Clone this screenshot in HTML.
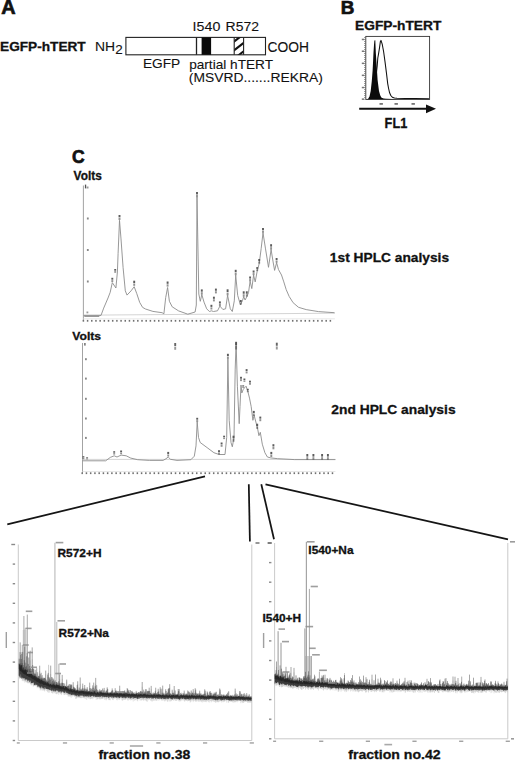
<!DOCTYPE html>
<html><head><meta charset="utf-8"><style>
html,body{margin:0;padding:0;background:#fff;width:520px;height:762px;overflow:hidden}
svg{display:block}
text{font-family:"Liberation Sans", sans-serif}
</style></head><body>
<svg width="520" height="762" viewBox="0 0 520 762">
<text transform="translate(1.30 14.00) scale(1.007 1)" font-size="19.71" font-weight="bold" fill="#111" stroke="#111" stroke-width="0.7">A</text>
<text transform="translate(0.04 50.57) scale(1.032 1)" font-size="13.24" font-weight="bold" fill="#111" stroke="#111" stroke-width="0.3">EGFP-hTERT</text>
<text transform="translate(94.89 50.70) scale(1.021 1)" font-size="13.62" font-weight="normal" fill="#111" stroke="#111" stroke-width="0.1">NH</text>
<text transform="translate(115.13 53.60) scale(1.026 1)" font-size="13.14" font-weight="normal" fill="#111" stroke="#111" stroke-width="0.1">2</text>
<rect x="125.9" y="37.4" width="139.6" height="17.4" fill="#fff" stroke="#222" stroke-width="1.1"/>
<line x1="196.5" y1="37.4" x2="196.5" y2="54.8" stroke="#222" stroke-width="1.3" />
<rect x="201.6" y="37.4" width="9.5" height="17.4" fill="#0a0a0a"/>
<defs><clipPath id="hc"><rect x="234.2" y="37.4" width="9.4" height="17.4"/></clipPath></defs>
<g clip-path="url(#hc)">
<line x1="232" y1="43.19" x2="246" y2="32.27" stroke="#111" stroke-width="2.1"/>
<line x1="232" y1="51.99" x2="246" y2="41.07" stroke="#111" stroke-width="2.1"/>
<line x1="232" y1="60.39" x2="246" y2="49.47" stroke="#111" stroke-width="2.1"/>
</g>
<line x1="234.2" y1="37.4" x2="234.2" y2="54.8" stroke="#222" stroke-width="1.1" />
<line x1="243.6" y1="37.4" x2="243.6" y2="54.8" stroke="#222" stroke-width="1.1" />
<text transform="translate(267.51 51.71) scale(0.987 1)" font-size="14.01" font-weight="normal" fill="#111" stroke="#111" stroke-width="0.1">COOH</text>
<text transform="translate(192.62 30.87) scale(1.064 1)" font-size="13.38" font-weight="normal" fill="#111" stroke="#111" stroke-width="0.1">I540</text>
<text transform="translate(225.58 30.87) scale(1.045 1)" font-size="13.38" font-weight="normal" fill="#111" stroke="#111" stroke-width="0.1">R572</text>
<text transform="translate(142.90 68.37) scale(1.024 1)" font-size="13.38" font-weight="normal" fill="#111" stroke="#111" stroke-width="0.1">EGFP</text>
<text transform="translate(189.14 68.64) scale(1.002 1)" font-size="13.62" font-weight="normal" fill="#111" stroke="#111" stroke-width="0.1">partial hTERT</text>
<text transform="translate(188.77 82.31) scale(1.043 1)" font-size="13.30" font-weight="normal" fill="#111" stroke="#111" stroke-width="0.1">(MSVRD.......REKRA)</text>
<text transform="translate(340.68 14.00) scale(1.016 1)" font-size="18.55" font-weight="bold" fill="#111" stroke="#111" stroke-width="0.7">B</text>
<text transform="translate(355.04 30.37) scale(1.062 1)" font-size="12.97" font-weight="bold" fill="#111" stroke="#111" stroke-width="0.3">EGFP-hTERT</text>
<rect x="365.8" y="36.4" width="63.8" height="63.0" fill="none" stroke="#333" stroke-width="0.9"/>
<rect x="361.8" y="38.7" width="2.4" height="1.5" fill="#777"/>
<rect x="361.8" y="50.5" width="2.4" height="1.5" fill="#777"/>
<rect x="361.8" y="62.6" width="2.4" height="1.5" fill="#777"/>
<rect x="361.8" y="74.6" width="2.4" height="1.5" fill="#777"/>
<rect x="361.8" y="86.8" width="2.4" height="1.5" fill="#777"/>
<rect x="361.8" y="98.4" width="2.4" height="1.5" fill="#777"/>
<rect x="379.5" y="103" width="3.4" height="1.8" fill="#777"/>
<rect x="394.5" y="103" width="3.4" height="1.8" fill="#777"/>
<rect x="411.5" y="103" width="3.4" height="1.8" fill="#777"/>
<polygon points="366.2,99.3 368,99 369.5,96.5 370.7,91 371.8,81 372.6,70.8 373.1,61 373.5,52.4 374.0,45 374.4,40.6 375.3,40.2 375.8,52.4 376.7,66.2 377.6,80 379,91 380.2,95.3 381.3,97.4 383.5,98.4 385.9,98.8 392,99.1 397,99.3" fill="#0b0b0b"/>
<polyline points="376.3,74.0 377.2,66.0 377.8,58.0 378.5,54.2 379.5,47.8 380.4,41.4 381.0,40.4 382.2,44.1 383.6,51.5 385.0,61.6 386.4,72.6 387.7,83.6 388.6,88.5 389.6,92.8 390.8,95.5 392.3,97.2 394.5,98.0 397.0,98.3 405.0,98.5 415.0,98.6 429.0,98.7" fill="none" stroke="#111" stroke-width="1.05" stroke-linejoin="round" />
<line x1="364.8" y1="37" x2="364.8" y2="99.4" stroke="#555" stroke-width="1" stroke-dasharray="0.8 1.2"/>
<line x1="359.2" y1="108.8" x2="428" y2="108.8" stroke="#111" stroke-width="2.0" />
<polygon points="426,104.4 436,108.8 426,113.3" fill="#111"/>
<text transform="translate(384.61 127.60) scale(0.925 1)" font-size="13.77" font-weight="bold" fill="#111" stroke="#111" stroke-width="0.3">FL1</text>
<text transform="translate(71.90 163.42) scale(0.958 1)" font-size="18.31" font-weight="bold" fill="#111" stroke="#111" stroke-width="0.7">C</text>
<text transform="translate(73.58 180.18) scale(0.989 1)" font-size="12.03" font-weight="bold" fill="#111" stroke="#111" stroke-width="0.3">Volts</text>
<text transform="translate(72.28 339.59) scale(1.058 1)" font-size="11.49" font-weight="bold" fill="#111" stroke="#111" stroke-width="0.3">Volts</text>
<line x1="83.4" y1="185.5" x2="83.4" y2="321" stroke="#999" stroke-width="0.9" />
<line x1="83.4" y1="315.2" x2="334.9" y2="313.2" stroke="#cfcfcf" stroke-width="0.9" />
<rect x="86.9" y="217.5" width="1.8" height="2" fill="#888"/>
<rect x="86.9" y="249.0" width="1.8" height="2" fill="#888"/>
<rect x="86.9" y="280.5" width="1.8" height="2" fill="#888"/>
<rect x="84.9" y="184.6" width="1.3" height="3.8" fill="#555"/><rect x="86.6" y="186.5" width="1.9" height="2" fill="#999"/>
<rect x="84.3" y="315.6" width="15" height="1.4" fill="#999"/><rect x="86.5" y="311.5" width="1.8" height="1.8" fill="#999"/>
<rect x="82.65" y="319.9" width="1.5" height="1.8" fill="#707070"/>
<rect x="86.84" y="319.9" width="1.5" height="1.8" fill="#707070"/>
<rect x="91.02" y="319.9" width="1.5" height="1.8" fill="#707070"/>
<rect x="95.21" y="319.9" width="1.5" height="1.8" fill="#707070"/>
<rect x="99.39" y="319.9" width="1.5" height="1.8" fill="#707070"/>
<rect x="103.58" y="319.9" width="1.5" height="1.8" fill="#707070"/>
<rect x="107.77" y="319.9" width="1.5" height="1.8" fill="#707070"/>
<rect x="111.95" y="319.9" width="1.5" height="1.8" fill="#707070"/>
<rect x="116.14" y="319.9" width="1.5" height="1.8" fill="#707070"/>
<rect x="120.32" y="319.9" width="1.5" height="1.8" fill="#707070"/>
<rect x="124.51" y="319.9" width="1.5" height="1.8" fill="#707070"/>
<rect x="128.70" y="319.9" width="1.5" height="1.8" fill="#707070"/>
<rect x="132.88" y="319.9" width="1.5" height="1.8" fill="#707070"/>
<rect x="137.07" y="319.9" width="1.5" height="1.8" fill="#707070"/>
<rect x="141.25" y="319.9" width="1.5" height="1.8" fill="#707070"/>
<rect x="145.44" y="319.9" width="1.5" height="1.8" fill="#707070"/>
<rect x="149.63" y="319.9" width="1.5" height="1.8" fill="#707070"/>
<rect x="153.81" y="319.9" width="1.5" height="1.8" fill="#707070"/>
<rect x="158.00" y="319.9" width="1.5" height="1.8" fill="#707070"/>
<rect x="162.18" y="319.9" width="1.5" height="1.8" fill="#707070"/>
<rect x="166.37" y="319.9" width="1.5" height="1.8" fill="#707070"/>
<rect x="170.56" y="319.9" width="1.5" height="1.8" fill="#707070"/>
<rect x="174.74" y="319.9" width="1.5" height="1.8" fill="#707070"/>
<rect x="178.93" y="319.9" width="1.5" height="1.8" fill="#707070"/>
<rect x="183.11" y="319.9" width="1.5" height="1.8" fill="#707070"/>
<rect x="187.30" y="319.9" width="1.5" height="1.8" fill="#707070"/>
<rect x="191.49" y="319.9" width="1.5" height="1.8" fill="#707070"/>
<rect x="195.67" y="319.9" width="1.5" height="1.8" fill="#707070"/>
<rect x="199.86" y="319.9" width="1.5" height="1.8" fill="#707070"/>
<rect x="204.04" y="319.9" width="1.5" height="1.8" fill="#707070"/>
<rect x="208.23" y="319.9" width="1.5" height="1.8" fill="#707070"/>
<rect x="212.42" y="319.9" width="1.5" height="1.8" fill="#707070"/>
<rect x="216.60" y="319.9" width="1.5" height="1.8" fill="#707070"/>
<rect x="220.79" y="319.9" width="1.5" height="1.8" fill="#707070"/>
<rect x="224.97" y="319.9" width="1.5" height="1.8" fill="#707070"/>
<rect x="229.16" y="319.9" width="1.5" height="1.8" fill="#707070"/>
<rect x="233.35" y="319.9" width="1.5" height="1.8" fill="#707070"/>
<rect x="237.53" y="319.9" width="1.5" height="1.8" fill="#707070"/>
<rect x="241.72" y="319.9" width="1.5" height="1.8" fill="#707070"/>
<rect x="245.90" y="319.9" width="1.5" height="1.8" fill="#707070"/>
<rect x="250.09" y="319.9" width="1.5" height="1.8" fill="#707070"/>
<rect x="254.28" y="319.9" width="1.5" height="1.8" fill="#707070"/>
<rect x="258.46" y="319.9" width="1.5" height="1.8" fill="#707070"/>
<rect x="262.65" y="319.9" width="1.5" height="1.8" fill="#707070"/>
<rect x="266.83" y="319.9" width="1.5" height="1.8" fill="#707070"/>
<rect x="271.02" y="319.9" width="1.5" height="1.8" fill="#707070"/>
<rect x="275.21" y="319.9" width="1.5" height="1.8" fill="#707070"/>
<rect x="279.39" y="319.9" width="1.5" height="1.8" fill="#707070"/>
<rect x="283.58" y="319.9" width="1.5" height="1.8" fill="#707070"/>
<rect x="287.76" y="319.9" width="1.5" height="1.8" fill="#707070"/>
<rect x="291.95" y="319.9" width="1.5" height="1.8" fill="#707070"/>
<rect x="296.14" y="319.9" width="1.5" height="1.8" fill="#707070"/>
<rect x="300.32" y="319.9" width="1.5" height="1.8" fill="#707070"/>
<rect x="304.51" y="319.9" width="1.5" height="1.8" fill="#707070"/>
<rect x="308.69" y="319.9" width="1.5" height="1.8" fill="#707070"/>
<rect x="312.88" y="319.9" width="1.5" height="1.8" fill="#707070"/>
<rect x="317.07" y="319.9" width="1.5" height="1.8" fill="#707070"/>
<rect x="321.25" y="319.9" width="1.5" height="1.8" fill="#707070"/>
<rect x="325.44" y="319.9" width="1.5" height="1.8" fill="#707070"/>
<rect x="329.62" y="319.9" width="1.5" height="1.8" fill="#707070"/>
<line x1="83.4" y1="318.8" x2="334.9" y2="318.8" stroke="#e2e2e2" stroke-width="0.8" />
<polyline points="83.4,315.4 101.0,315.4 103.7,308.1 108.0,298.0 110.2,292.3 112.3,282.6 115.9,288.0 117.4,272.0 118.1,253.3 119.5,220.3 121.0,238.9 123.1,267.7 125.3,290.8 127.0,295.1 131.1,290.8 134.2,286.7 136.8,293.7 139.7,302.4 142.6,307.4 145.5,309.0 152.9,311.4 162.1,312.7 163.9,313.8 165.7,297.6 167.6,287.5 169.4,301.3 172.2,306.8 178.6,310.9 187.8,314.2 195.1,312.0 196.3,305.0 197.0,197.5 198.8,294.0 200.3,301.3 201.8,294.5 204.0,302.1 206.7,308.8 209.4,311.5 211.4,310.8 213.5,311.5 217.5,310.8 219.9,306.1 222.9,309.5 225.6,308.8 227.6,295.4 230.3,308.8 232.3,311.5 234.3,300.8 235.7,275.2 237.7,295.4 240.4,304.8 242.4,300.8 243.7,296.7 245.1,300.0 246.8,296.7 248.5,292.7 250.1,281.2 251.8,288.6 253.6,275.2 255.2,281.9 257.2,271.1 259.2,263.7 261.2,248.3 263.0,232.8 265.4,248.1 268.5,267.3 271.1,249.6 273.1,261.9 274.6,270.4 276.6,262.7 278.5,269.6 281.5,275.0 283.8,281.9 286.2,289.6 289.2,296.5 293.1,302.7 298.5,307.3 306.2,309.6 318.5,311.6 334.5,312.7" fill="none" stroke="#8c8c8c" stroke-width="0.9" stroke-linejoin="round" />
<rect x="111.35" y="277.80" width="1.9" height="1.89" fill="#4a4a4a" opacity="0.9"/>
<rect x="111.35" y="280.11" width="1.9" height="1.89" fill="#4a4a4a" opacity="0.6"/>
<rect x="114.25" y="269.00" width="1.9" height="1.71" fill="#4a4a4a" opacity="0.9"/>
<rect x="114.25" y="271.09" width="1.9" height="1.71" fill="#4a4a4a" opacity="0.6"/>
<rect x="118.55" y="215.00" width="1.9" height="2.25" fill="#4a4a4a" opacity="0.9"/>
<rect x="118.55" y="217.75" width="1.9" height="2.25" fill="#4a4a4a" opacity="0.6"/>
<rect x="133.25" y="280.70" width="1.9" height="2.30" fill="#4a4a4a" opacity="0.9"/>
<rect x="133.25" y="283.50" width="1.9" height="2.30" fill="#4a4a4a" opacity="0.6"/>
<rect x="166.65" y="281.50" width="1.9" height="2.30" fill="#4a4a4a" opacity="0.9"/>
<rect x="166.65" y="284.31" width="1.9" height="2.30" fill="#4a4a4a" opacity="0.6"/>
<rect x="196.05" y="192.00" width="1.9" height="2.48" fill="#4a4a4a" opacity="0.9"/>
<rect x="196.05" y="195.03" width="1.9" height="2.48" fill="#4a4a4a" opacity="0.6"/>
<rect x="200.85" y="289.40" width="1.9" height="2.30" fill="#4a4a4a" opacity="0.9"/>
<rect x="200.85" y="292.20" width="1.9" height="2.30" fill="#4a4a4a" opacity="0.6"/>
<rect x="210.45" y="304.80" width="1.9" height="2.11" fill="#4a4a4a" opacity="0.9"/>
<rect x="210.45" y="307.38" width="1.9" height="2.11" fill="#4a4a4a" opacity="0.6"/>
<rect x="212.95" y="296.70" width="1.9" height="2.11" fill="#4a4a4a" opacity="0.9"/>
<rect x="212.95" y="299.28" width="1.9" height="2.11" fill="#4a4a4a" opacity="0.6"/>
<rect x="214.95" y="288.60" width="1.9" height="2.16" fill="#4a4a4a" opacity="0.9"/>
<rect x="214.95" y="291.24" width="1.9" height="2.16" fill="#4a4a4a" opacity="0.6"/>
<rect x="218.95" y="301.40" width="1.9" height="2.12" fill="#4a4a4a" opacity="0.9"/>
<rect x="218.95" y="303.99" width="1.9" height="2.12" fill="#4a4a4a" opacity="0.6"/>
<rect x="226.65" y="289.30" width="1.9" height="2.74" fill="#4a4a4a" opacity="0.9"/>
<rect x="226.65" y="292.65" width="1.9" height="2.74" fill="#4a4a4a" opacity="0.6"/>
<rect x="234.75" y="269.80" width="1.9" height="2.43" fill="#4a4a4a" opacity="0.9"/>
<rect x="234.75" y="272.77" width="1.9" height="2.43" fill="#4a4a4a" opacity="0.6"/>
<rect x="239.85" y="300.00" width="1.9" height="2.16" fill="#4a4a4a" opacity="0.9"/>
<rect x="239.85" y="302.64" width="1.9" height="2.16" fill="#4a4a4a" opacity="0.6"/>
<rect x="242.75" y="291.30" width="1.9" height="2.43" fill="#4a4a4a" opacity="0.9"/>
<rect x="242.75" y="294.27" width="1.9" height="2.43" fill="#4a4a4a" opacity="0.6"/>
<rect x="245.85" y="291.30" width="1.9" height="2.43" fill="#4a4a4a" opacity="0.9"/>
<rect x="245.85" y="294.27" width="1.9" height="2.43" fill="#4a4a4a" opacity="0.6"/>
<rect x="249.15" y="276.50" width="1.9" height="2.11" fill="#4a4a4a" opacity="0.9"/>
<rect x="249.15" y="279.08" width="1.9" height="2.11" fill="#4a4a4a" opacity="0.6"/>
<rect x="252.65" y="270.50" width="1.9" height="2.11" fill="#4a4a4a" opacity="0.9"/>
<rect x="252.65" y="273.08" width="1.9" height="2.11" fill="#4a4a4a" opacity="0.6"/>
<rect x="256.25" y="267.10" width="1.9" height="1.80" fill="#4a4a4a" opacity="0.9"/>
<rect x="256.25" y="269.30" width="1.9" height="1.80" fill="#4a4a4a" opacity="0.6"/>
<rect x="258.25" y="259.00" width="1.9" height="2.11" fill="#4a4a4a" opacity="0.9"/>
<rect x="258.25" y="261.58" width="1.9" height="2.11" fill="#4a4a4a" opacity="0.6"/>
<rect x="262.05" y="228.00" width="1.9" height="2.16" fill="#4a4a4a" opacity="0.9"/>
<rect x="262.05" y="230.64" width="1.9" height="2.16" fill="#4a4a4a" opacity="0.6"/>
<rect x="270.15" y="244.20" width="1.9" height="2.43" fill="#4a4a4a" opacity="0.9"/>
<rect x="270.15" y="247.17" width="1.9" height="2.43" fill="#4a4a4a" opacity="0.6"/>
<rect x="275.65" y="258.00" width="1.9" height="2.11" fill="#4a4a4a" opacity="0.9"/>
<rect x="275.65" y="260.58" width="1.9" height="2.11" fill="#4a4a4a" opacity="0.6"/>
<text transform="translate(329.87 261.63) scale(1.043 1)" font-size="13.19" font-weight="bold" fill="#111" stroke="#111" stroke-width="0.3">1st HPLC analysis</text>
<text transform="translate(331.29 414.21) scale(1.039 1)" font-size="13.30" font-weight="bold" fill="#111" stroke="#111" stroke-width="0.3">2nd HPLC analysis</text>
<line x1="82.5" y1="343" x2="82.5" y2="473" stroke="#999" stroke-width="0.9" />
<line x1="82.5" y1="459.4" x2="335.4" y2="459.4" stroke="#cfcfcf" stroke-width="0.9" />
<rect x="85" y="358.2" width="1.8" height="2" fill="#888"/>
<rect x="85" y="377.6" width="1.8" height="2" fill="#888"/>
<rect x="85" y="397.8" width="1.8" height="2" fill="#888"/>
<rect x="85" y="417.5" width="1.8" height="2" fill="#888"/>
<rect x="85" y="436.9" width="1.8" height="2" fill="#888"/>
<rect x="84.2" y="343" width="1.4" height="2.6" fill="#666"/>
<rect x="81.45" y="472.3" width="1.5" height="1.8" fill="#707070"/>
<rect x="85.69" y="472.3" width="1.5" height="1.8" fill="#707070"/>
<rect x="89.93" y="472.3" width="1.5" height="1.8" fill="#707070"/>
<rect x="94.18" y="472.3" width="1.5" height="1.8" fill="#707070"/>
<rect x="98.42" y="472.3" width="1.5" height="1.8" fill="#707070"/>
<rect x="102.66" y="472.3" width="1.5" height="1.8" fill="#707070"/>
<rect x="106.90" y="472.3" width="1.5" height="1.8" fill="#707070"/>
<rect x="111.14" y="472.3" width="1.5" height="1.8" fill="#707070"/>
<rect x="115.39" y="472.3" width="1.5" height="1.8" fill="#707070"/>
<rect x="119.63" y="472.3" width="1.5" height="1.8" fill="#707070"/>
<rect x="123.87" y="472.3" width="1.5" height="1.8" fill="#707070"/>
<rect x="128.11" y="472.3" width="1.5" height="1.8" fill="#707070"/>
<rect x="132.35" y="472.3" width="1.5" height="1.8" fill="#707070"/>
<rect x="136.60" y="472.3" width="1.5" height="1.8" fill="#707070"/>
<rect x="140.84" y="472.3" width="1.5" height="1.8" fill="#707070"/>
<rect x="145.08" y="472.3" width="1.5" height="1.8" fill="#707070"/>
<rect x="149.32" y="472.3" width="1.5" height="1.8" fill="#707070"/>
<rect x="153.56" y="472.3" width="1.5" height="1.8" fill="#707070"/>
<rect x="157.81" y="472.3" width="1.5" height="1.8" fill="#707070"/>
<rect x="162.05" y="472.3" width="1.5" height="1.8" fill="#707070"/>
<rect x="166.29" y="472.3" width="1.5" height="1.8" fill="#707070"/>
<rect x="170.53" y="472.3" width="1.5" height="1.8" fill="#707070"/>
<rect x="174.77" y="472.3" width="1.5" height="1.8" fill="#707070"/>
<rect x="179.02" y="472.3" width="1.5" height="1.8" fill="#707070"/>
<rect x="183.26" y="472.3" width="1.5" height="1.8" fill="#707070"/>
<rect x="187.50" y="472.3" width="1.5" height="1.8" fill="#707070"/>
<rect x="191.74" y="472.3" width="1.5" height="1.8" fill="#707070"/>
<rect x="195.98" y="472.3" width="1.5" height="1.8" fill="#707070"/>
<rect x="200.23" y="472.3" width="1.5" height="1.8" fill="#707070"/>
<rect x="204.47" y="472.3" width="1.5" height="1.8" fill="#707070"/>
<rect x="208.71" y="472.3" width="1.5" height="1.8" fill="#707070"/>
<rect x="212.95" y="472.3" width="1.5" height="1.8" fill="#707070"/>
<rect x="217.19" y="472.3" width="1.5" height="1.8" fill="#707070"/>
<rect x="221.44" y="472.3" width="1.5" height="1.8" fill="#707070"/>
<rect x="225.68" y="472.3" width="1.5" height="1.8" fill="#707070"/>
<rect x="229.92" y="472.3" width="1.5" height="1.8" fill="#707070"/>
<rect x="234.16" y="472.3" width="1.5" height="1.8" fill="#707070"/>
<rect x="238.40" y="472.3" width="1.5" height="1.8" fill="#707070"/>
<rect x="242.65" y="472.3" width="1.5" height="1.8" fill="#707070"/>
<rect x="246.89" y="472.3" width="1.5" height="1.8" fill="#707070"/>
<rect x="251.13" y="472.3" width="1.5" height="1.8" fill="#707070"/>
<rect x="255.37" y="472.3" width="1.5" height="1.8" fill="#707070"/>
<rect x="259.61" y="472.3" width="1.5" height="1.8" fill="#707070"/>
<rect x="263.86" y="472.3" width="1.5" height="1.8" fill="#707070"/>
<rect x="268.10" y="472.3" width="1.5" height="1.8" fill="#707070"/>
<rect x="272.34" y="472.3" width="1.5" height="1.8" fill="#707070"/>
<rect x="276.58" y="472.3" width="1.5" height="1.8" fill="#707070"/>
<rect x="280.82" y="472.3" width="1.5" height="1.8" fill="#707070"/>
<rect x="285.07" y="472.3" width="1.5" height="1.8" fill="#707070"/>
<rect x="289.31" y="472.3" width="1.5" height="1.8" fill="#707070"/>
<rect x="293.55" y="472.3" width="1.5" height="1.8" fill="#707070"/>
<rect x="297.79" y="472.3" width="1.5" height="1.8" fill="#707070"/>
<rect x="302.03" y="472.3" width="1.5" height="1.8" fill="#707070"/>
<rect x="306.28" y="472.3" width="1.5" height="1.8" fill="#707070"/>
<rect x="310.52" y="472.3" width="1.5" height="1.8" fill="#707070"/>
<rect x="314.76" y="472.3" width="1.5" height="1.8" fill="#707070"/>
<rect x="319.00" y="472.3" width="1.5" height="1.8" fill="#707070"/>
<rect x="323.24" y="472.3" width="1.5" height="1.8" fill="#707070"/>
<rect x="327.49" y="472.3" width="1.5" height="1.8" fill="#707070"/>
<rect x="331.73" y="472.3" width="1.5" height="1.8" fill="#707070"/>
<line x1="82.5" y1="471.5" x2="335.4" y2="471.5" stroke="#e2e2e2" stroke-width="0.8" />
<polyline points="82.5,460.8 105.7,460.8 110.3,457.4 114.2,455.8 117.0,457.0 121.1,455.1 126.2,455.8 130.8,458.1 137.7,459.7 149.3,460.4 163.1,460.4 165.9,458.8 168.2,457.0 170.5,459.3 177.0,460.4 190.9,459.7 194.3,456.2 196.0,445.9 197.2,422.0 198.5,437.4 200.2,442.5 207.1,447.6 213.9,452.7 219.0,454.5 225.0,454.5 226.7,437.4 227.9,358.9 229.2,420.3 231.0,442.5 232.3,446.8 234.0,437.4 235.2,369.1 236.1,342.7 237.4,386.2 239.2,423.7 240.0,406.7 241.0,385.0 241.8,393.0 243.2,389.6 244.4,387.9 246.1,386.2 247.8,391.3 249.5,398.1 251.2,406.7 252.9,420.3 254.1,415.2 256.3,423.7 257.5,428.0 258.9,435.7 260.3,432.3 262.3,444.2 264.9,452.7 267.4,457.0 270.8,457.9 277.7,458.7 294.7,459.6 335.4,459.6" fill="none" stroke="#8c8c8c" stroke-width="0.9" stroke-linejoin="round" />
<rect x="82.45" y="456.20" width="1.9" height="1.35" fill="#4a4a4a" opacity="0.9"/>
<rect x="82.45" y="457.85" width="1.9" height="1.35" fill="#4a4a4a" opacity="0.6"/>
<rect x="86.15" y="457.30" width="1.9" height="0.94" fill="#4a4a4a" opacity="0.9"/>
<rect x="86.15" y="458.45" width="1.9" height="0.94" fill="#4a4a4a" opacity="0.6"/>
<rect x="113.25" y="451.20" width="1.9" height="1.53" fill="#4a4a4a" opacity="0.9"/>
<rect x="113.25" y="453.07" width="1.9" height="1.53" fill="#4a4a4a" opacity="0.6"/>
<rect x="120.15" y="450.50" width="1.9" height="1.66" fill="#4a4a4a" opacity="0.9"/>
<rect x="120.15" y="452.53" width="1.9" height="1.66" fill="#4a4a4a" opacity="0.6"/>
<rect x="167.25" y="451.90" width="1.9" height="2.07" fill="#4a4a4a" opacity="0.9"/>
<rect x="167.25" y="454.43" width="1.9" height="2.07" fill="#4a4a4a" opacity="0.6"/>
<rect x="196.25" y="417.80" width="1.9" height="1.89" fill="#4a4a4a" opacity="0.9"/>
<rect x="196.25" y="420.11" width="1.9" height="1.89" fill="#4a4a4a" opacity="0.6"/>
<rect x="218.05" y="450.20" width="1.9" height="1.94" fill="#4a4a4a" opacity="0.9"/>
<rect x="218.05" y="452.56" width="1.9" height="1.94" fill="#4a4a4a" opacity="0.6"/>
<rect x="220.65" y="442.50" width="1.9" height="1.94" fill="#4a4a4a" opacity="0.9"/>
<rect x="220.65" y="444.87" width="1.9" height="1.94" fill="#4a4a4a" opacity="0.6"/>
<rect x="223.15" y="435.70" width="1.9" height="1.53" fill="#4a4a4a" opacity="0.9"/>
<rect x="223.15" y="437.57" width="1.9" height="1.53" fill="#4a4a4a" opacity="0.6"/>
<rect x="226.95" y="353.80" width="1.9" height="2.29" fill="#4a4a4a" opacity="0.9"/>
<rect x="226.95" y="356.61" width="1.9" height="2.29" fill="#4a4a4a" opacity="0.6"/>
<rect x="232.55" y="435.70" width="1.9" height="2.70" fill="#4a4a4a" opacity="0.9"/>
<rect x="232.55" y="439.00" width="1.9" height="2.70" fill="#4a4a4a" opacity="0.6"/>
<rect x="235.15" y="341.80" width="1.9" height="3.46" fill="#4a4a4a" opacity="0.9"/>
<rect x="235.15" y="346.04" width="1.9" height="3.46" fill="#4a4a4a" opacity="0.6"/>
<rect x="240.05" y="376.80" width="1.9" height="1.94" fill="#4a4a4a" opacity="0.9"/>
<rect x="240.05" y="379.17" width="1.9" height="1.94" fill="#4a4a4a" opacity="0.6"/>
<rect x="243.45" y="378.50" width="1.9" height="1.53" fill="#4a4a4a" opacity="0.9"/>
<rect x="243.45" y="380.37" width="1.9" height="1.53" fill="#4a4a4a" opacity="0.6"/>
<rect x="245.65" y="369.10" width="1.9" height="1.93" fill="#4a4a4a" opacity="0.9"/>
<rect x="245.65" y="371.46" width="1.9" height="1.93" fill="#4a4a4a" opacity="0.6"/>
<rect x="249.05" y="380.70" width="1.9" height="1.85" fill="#4a4a4a" opacity="0.9"/>
<rect x="249.05" y="382.95" width="1.9" height="1.85" fill="#4a4a4a" opacity="0.6"/>
<rect x="242.25" y="385.30" width="1.9" height="1.17" fill="#4a4a4a" opacity="0.9"/>
<rect x="242.25" y="386.73" width="1.9" height="1.17" fill="#4a4a4a" opacity="0.6"/>
<rect x="246.85" y="388.80" width="1.9" height="1.53" fill="#4a4a4a" opacity="0.9"/>
<rect x="246.85" y="390.67" width="1.9" height="1.53" fill="#4a4a4a" opacity="0.6"/>
<rect x="252.85" y="410.90" width="1.9" height="2.30" fill="#4a4a4a" opacity="0.9"/>
<rect x="252.85" y="413.70" width="1.9" height="2.30" fill="#4a4a4a" opacity="0.6"/>
<rect x="256.25" y="423.70" width="1.9" height="2.34" fill="#4a4a4a" opacity="0.9"/>
<rect x="256.25" y="426.56" width="1.9" height="2.34" fill="#4a4a4a" opacity="0.6"/>
<rect x="259.35" y="416.60" width="1.9" height="2.07" fill="#4a4a4a" opacity="0.9"/>
<rect x="259.35" y="419.13" width="1.9" height="2.07" fill="#4a4a4a" opacity="0.6"/>
<rect x="272.45" y="444.20" width="1.9" height="2.30" fill="#4a4a4a" opacity="0.9"/>
<rect x="272.45" y="447.00" width="1.9" height="2.30" fill="#4a4a4a" opacity="0.6"/>
<rect x="270.35" y="451.90" width="1.9" height="2.30" fill="#4a4a4a" opacity="0.9"/>
<rect x="270.35" y="454.70" width="1.9" height="2.30" fill="#4a4a4a" opacity="0.6"/>
<rect x="306.35" y="454.00" width="1.9" height="2.61" fill="#4a4a4a" opacity="0.9"/>
<rect x="306.35" y="457.19" width="1.9" height="2.61" fill="#4a4a4a" opacity="0.6"/>
<rect x="312.45" y="454.00" width="1.9" height="2.61" fill="#4a4a4a" opacity="0.9"/>
<rect x="312.45" y="457.19" width="1.9" height="2.61" fill="#4a4a4a" opacity="0.6"/>
<rect x="321.15" y="454.00" width="1.9" height="2.61" fill="#4a4a4a" opacity="0.9"/>
<rect x="321.15" y="457.19" width="1.9" height="2.61" fill="#4a4a4a" opacity="0.6"/>
<rect x="326.95" y="454.00" width="1.9" height="2.61" fill="#4a4a4a" opacity="0.9"/>
<rect x="326.95" y="457.19" width="1.9" height="2.61" fill="#4a4a4a" opacity="0.6"/>
<rect x="174.25" y="343.00" width="1.9" height="3.06" fill="#555" opacity="0.9"/>
<rect x="174.25" y="346.74" width="1.9" height="3.06" fill="#555" opacity="0.6"/>
<rect x="275.85" y="342.70" width="1.9" height="3.06" fill="#555" opacity="0.9"/>
<rect x="275.85" y="346.44" width="1.9" height="3.06" fill="#555" opacity="0.6"/>
<line x1="205" y1="476.3" x2="7.3" y2="524.4" stroke="#151515" stroke-width="1.75" />
<line x1="248.8" y1="484.3" x2="249.9" y2="541.5" stroke="#151515" stroke-width="1.75" />
<line x1="261.3" y1="484.3" x2="274.0" y2="539.3" stroke="#151515" stroke-width="1.75" />
<line x1="265.5" y1="484.3" x2="508" y2="539.4" stroke="#151515" stroke-width="1.75" />
<line x1="18.3" y1="544.5" x2="18.3" y2="740.5" stroke="#c4c4c4" stroke-width="0.9" />
<line x1="251.8" y1="544.5" x2="251.8" y2="740.5" stroke="#c4c4c4" stroke-width="0.9" />
<line x1="18.3" y1="740.5" x2="251.8" y2="740.5" stroke="#c4c4c4" stroke-width="0.9" />
<rect x="11.3" y="543.8" width="3.8" height="1.4" fill="#8a8a8a"/>
<rect x="12.7" y="563.4" width="2.4" height="1.4" fill="#8a8a8a"/>
<rect x="12.7" y="583.0" width="2.4" height="1.4" fill="#8a8a8a"/>
<rect x="12.7" y="602.6" width="2.4" height="1.4" fill="#8a8a8a"/>
<rect x="12.7" y="622.2" width="2.4" height="1.4" fill="#8a8a8a"/>
<rect x="12.7" y="641.8" width="2.4" height="1.4" fill="#8a8a8a"/>
<rect x="12.7" y="661.4" width="2.4" height="1.4" fill="#8a8a8a"/>
<rect x="12.7" y="681.0" width="2.4" height="1.4" fill="#8a8a8a"/>
<rect x="12.7" y="700.6" width="2.4" height="1.4" fill="#8a8a8a"/>
<rect x="12.7" y="720.2" width="2.4" height="1.4" fill="#8a8a8a"/>
<rect x="12.7" y="739.8" width="2.4" height="1.4" fill="#8a8a8a"/>
<rect x="16.8" y="742.3" width="3" height="1.3" fill="#9a9a9a"/>
<rect x="62.9" y="742.3" width="4.2" height="1.3" fill="#9a9a9a"/>
<rect x="109.6" y="742.3" width="4.2" height="1.3" fill="#9a9a9a"/>
<rect x="156.3" y="742.3" width="4.2" height="1.3" fill="#9a9a9a"/>
<rect x="203.0" y="742.3" width="4.2" height="1.3" fill="#9a9a9a"/>
<rect x="249.7" y="742.3" width="4.2" height="1.3" fill="#9a9a9a"/>
<rect x="22.6" y="630" width="4.6" height="42" fill="#e4e4e4"/>
<rect x="19.2" y="652" width="3" height="18" fill="#d8d8d8"/>
<line x1="54.9" y1="542.8" x2="54.9" y2="687.7362068965517" stroke="#cccccc" stroke-width="1.5" />
<line x1="56.8" y1="621.9" x2="56.8" y2="688.096551724138" stroke="#b0b0b0" stroke-width="0.9" />
<line x1="58.9" y1="663.8" x2="58.9" y2="688.5052631578948" stroke="#9a9a9a" stroke-width="0.8" />
<line x1="27.3" y1="614.6" x2="27.3" y2="675.8" stroke="#a0a0a0" stroke-width="0.9" />
<line x1="23.9" y1="616" x2="23.9" y2="673.8115384615385" stroke="#a0a0a0" stroke-width="0.9" />
<line x1="25.1" y1="628.4" x2="25.1" y2="674.7" stroke="#b0b0b0" stroke-width="0.9" />
<line x1="22.3" y1="645" x2="22.3" y2="672.5500000000001" stroke="#999" stroke-width="0.8" />
<line x1="20.5" y1="655" x2="20.5" y2="671.1307692307693" stroke="#999" stroke-width="0.8" />
<line x1="48.6" y1="664.8" x2="48.6" y2="686.1275862068966" stroke="#b5b5b5" stroke-width="0.7" />
<line x1="29.5" y1="652" x2="29.5" y2="676.9" stroke="#aaa" stroke-width="0.7" />
<path d="M19.20 659.7V676.0M19.70 664.1V679.0M20.20 652.6V677.9M20.70 664.1V678.2M21.20 661.1V679.1M21.70 659.3V678.7M22.20 664.0V680.8M22.70 657.8V680.5M23.20 665.4V681.3M23.70 666.4V680.5M24.20 663.1V680.5M24.70 657.1V682.6M25.20 663.8V680.9M25.70 668.0V682.1M26.20 666.8V682.2M26.70 663.0V682.2M27.20 660.7V682.8M27.70 669.1V683.2M28.20 667.1V683.3M28.70 664.7V683.1M29.20 670.2V683.0M29.70 669.1V682.9M30.20 660.4V683.8M30.70 668.7V684.4M31.20 670.6V685.5M31.70 670.5V684.6M32.20 659.3V684.6M32.70 668.3V684.1M33.20 670.5V686.5M33.70 671.5V686.3M34.20 674.2V685.9M34.70 674.2V685.6M35.20 672.4V685.6M35.70 674.0V686.1M36.20 675.2V686.2M36.70 671.8V686.3M37.20 676.7V688.2M37.70 674.2V687.1M38.20 676.3V687.9M38.70 675.4V687.3M39.20 676.0V688.7M39.70 671.1V688.1M40.20 674.9V690.5M40.70 677.6V689.5M41.20 676.1V689.8M41.70 678.4V688.3M42.20 676.7V690.9M42.70 678.0V689.5M43.20 678.2V689.7M43.70 678.4V690.6M44.20 678.0V690.6M44.70 677.7V691.5M45.20 678.1V690.2M45.70 674.4V689.3M46.20 679.4V689.4M46.70 680.6V691.0M47.20 680.4V691.2M47.70 677.0V692.0M48.20 675.9V692.7M48.70 680.0V690.8M49.20 678.8V692.9M49.70 679.5V691.4M50.20 680.0V690.3M50.70 674.1V690.4M51.20 682.3V692.4M51.70 679.5V692.9M52.20 679.0V692.7M52.70 680.8V693.6M53.20 680.3V693.2M53.70 680.7V691.9M54.20 682.1V691.8M54.70 682.1V693.0M55.20 682.7V693.7M55.70 684.1V692.1M56.20 682.2V693.9M56.70 683.5V694.3M57.20 683.4V693.8M57.70 683.0V693.2M58.20 684.8V692.1M58.70 681.5V694.8M59.20 683.5V693.0M59.70 679.1V693.1M60.20 685.5V693.6M60.70 683.1V694.0M61.20 684.3V695.1M61.70 683.3V694.4M62.20 678.9V693.1M62.70 683.2V692.5M63.20 683.5V692.9M63.70 684.6V694.4M64.20 685.8V695.1M64.70 684.5V694.7M65.20 685.4V694.6M65.70 686.4V694.0M66.20 685.9V694.8M66.70 681.5V694.4M67.20 685.5V694.9M67.70 686.5V695.3M68.20 685.6V696.7M68.70 684.8V695.7M69.20 686.2V696.6M69.70 687.4V695.6M70.20 685.5V696.8M70.70 685.3V696.1M71.20 685.2V697.8M71.70 686.1V695.7M72.20 688.4V696.3M72.70 688.3V696.4M73.20 685.4V695.5M73.70 687.8V696.1M74.20 687.4V696.1M74.70 688.5V697.0M75.20 688.0V696.3M75.70 690.2V698.9M76.20 690.0V698.7M76.70 689.8V698.3M77.20 687.0V697.6M77.70 684.0V696.7M78.20 690.5V698.1M78.70 690.1V697.3M79.20 688.3V697.6M79.70 689.9V697.7M80.20 683.8V698.2M80.70 689.4V698.0M81.20 689.0V698.1M81.70 689.2V698.2M82.20 689.0V696.7M82.70 686.1V697.9M83.20 690.9V698.0M83.70 689.9V697.8M84.20 688.8V698.6M84.70 687.5V698.2M85.20 688.2V696.9M85.70 690.6V699.1M86.20 688.4V697.0M86.70 689.0V699.9M87.20 687.7V697.9M87.70 690.5V697.5M88.20 690.2V698.5M88.70 691.2V698.1M89.20 690.7V698.7M89.70 685.9V697.6M90.20 688.1V699.4M90.70 690.1V698.9M91.20 689.9V698.9M91.70 690.6V698.4M92.20 689.9V697.9M92.70 687.3V699.2M93.20 688.3V697.3M93.70 686.9V698.4M94.20 689.7V696.8M94.70 688.7V697.9M95.20 687.1V697.8M95.70 683.8V697.7M96.20 689.2V699.9M96.70 688.7V698.1M97.20 690.5V699.1M97.70 690.4V699.5M98.20 691.6V698.9M98.70 690.4V697.6M99.20 691.4V699.4M99.70 689.4V699.2M100.20 690.0V698.3M100.70 691.2V699.4M101.20 689.8V699.0M101.70 691.1V698.6M102.20 692.6V699.0M102.70 688.7V698.9M103.20 692.4V698.4M103.70 690.1V698.1M104.20 690.0V698.3M104.70 691.0V699.9M105.20 690.5V697.6M105.70 690.6V699.4M106.20 691.2V700.3M106.70 690.7V699.2M107.20 688.1V698.3M107.70 690.2V698.1M108.20 692.1V698.9M108.70 693.1V700.1M109.20 691.8V699.9M109.70 692.4V700.0M110.20 692.7V700.3M110.70 692.3V697.8M111.20 691.1V697.8M111.70 691.6V698.8M112.20 690.3V699.0M112.70 690.0V700.0M113.20 691.3V700.1M113.70 692.8V698.5M114.20 691.9V699.0M114.70 691.9V698.0M115.20 690.1V698.2M115.70 691.4V698.5M116.20 690.4V697.9M116.70 690.9V699.9M117.20 691.2V700.4M117.70 692.4V698.8M118.20 693.2V698.6M118.70 691.5V699.7M119.20 691.2V699.0M119.70 689.4V699.9M120.20 692.0V698.7M120.70 692.2V698.0M121.20 691.4V698.1M121.70 692.0V699.6M122.20 691.8V700.6M122.70 690.8V700.6M123.20 692.8V699.2M123.70 691.5V699.8M124.20 692.6V699.5M124.70 691.2V699.5M125.20 691.8V700.0M125.70 693.0V699.3M126.20 691.8V697.9M126.70 692.5V699.3M127.20 690.6V698.5M127.70 690.5V700.3M128.20 691.8V700.6M128.70 691.8V698.9M129.20 692.3V699.3M129.70 691.6V699.8M130.20 690.1V698.9M130.70 694.0V700.4M131.20 691.6V699.7M131.70 692.6V700.1M132.20 692.0V698.5M132.70 692.3V699.6M133.20 693.9V701.5M133.70 693.0V699.1M134.20 692.0V699.1M134.70 692.2V700.8M135.20 692.7V699.8M135.70 692.8V700.1M136.20 690.6V698.4M136.70 691.7V699.6M137.20 692.1V700.7M137.70 693.7V701.3M138.20 692.0V699.4M138.70 692.0V699.0M139.20 692.1V699.4M139.70 691.9V698.8M140.20 692.6V700.8M140.70 691.1V699.4M141.20 691.3V699.9M141.70 693.0V700.7M142.20 686.8V699.8M142.70 691.3V699.5M143.20 693.3V700.1M143.70 690.9V700.8M144.20 692.7V699.3M144.70 692.5V699.7M145.20 691.7V700.5M145.70 691.2V699.8M146.20 692.0V700.7M146.70 692.8V701.2M147.20 691.6V701.9M147.70 690.8V698.8M148.20 692.4V700.3M148.70 691.2V699.3M149.20 691.1V699.7M149.70 691.8V699.2M150.20 692.3V699.6M150.70 692.9V700.9M151.20 689.2V700.0M151.70 693.4V701.2M152.20 694.3V701.6M152.70 693.7V699.4M153.20 692.0V700.9M153.70 693.8V699.9M154.20 693.9V701.0M154.70 693.4V699.4M155.20 692.9V699.8M155.70 690.3V700.5M156.20 693.0V700.7M156.70 693.0V700.7M157.20 692.9V699.8M157.70 691.8V699.0M158.20 690.4V700.7M158.70 691.1V698.7M159.20 693.7V699.7M159.70 693.2V700.3M160.20 689.0V699.2M160.70 693.7V699.1M161.20 690.4V700.0M161.70 694.6V700.4M162.20 692.5V700.9M162.70 688.8V699.6M163.20 692.7V699.9M163.70 692.4V700.6M164.20 693.1V699.3M164.70 692.9V701.4M165.20 694.0V701.1M165.70 690.5V699.7M166.20 692.8V700.4M166.70 693.8V699.9M167.20 693.6V701.2M167.70 692.6V702.0M168.20 690.6V700.2M168.70 690.6V700.1M169.20 691.4V701.3M169.70 687.7V699.0M170.20 693.0V701.7M170.70 693.6V700.6M171.20 694.4V700.6M171.70 694.4V701.2M172.20 690.8V700.0M172.70 692.2V699.6M173.20 693.2V699.5M173.70 692.3V700.9M174.20 689.5V699.7M174.70 693.6V700.1M175.20 692.7V700.3M175.70 694.4V700.7M176.20 694.0V701.0M176.70 694.9V700.2M177.20 692.7V700.3M177.70 693.6V699.8M178.20 691.4V699.8M178.70 691.5V700.8M179.20 692.2V701.7M179.70 694.8V700.6M180.20 694.7V700.5M180.70 692.9V701.4M181.20 692.6V700.3M181.70 692.6V700.3M182.20 693.3V699.7M182.70 694.0V700.4M183.20 693.1V699.4M183.70 693.7V700.2M184.20 692.2V701.1M184.70 693.4V701.7M185.20 693.2V699.8M185.70 693.8V700.6M186.20 694.7V700.9M186.70 693.5V700.5M187.20 693.4V700.4M187.70 692.3V701.4M188.20 694.6V701.0M188.70 691.4V701.0M189.20 692.4V700.8M189.70 692.8V700.9M190.20 695.7V702.6M190.70 692.6V701.7M191.20 691.2V701.4M191.70 694.1V699.8M192.20 692.5V700.6M192.70 692.3V700.3M193.20 690.7V702.1M193.70 692.9V700.8M194.20 694.8V700.5M194.70 692.9V700.2M195.20 691.0V701.3M195.70 692.2V701.4M196.20 694.3V701.7M196.70 693.6V701.2M197.20 693.1V699.8M197.70 693.6V700.7M198.20 694.6V701.8M198.70 694.4V700.5M199.20 693.8V701.8M199.70 692.1V700.3M200.20 694.0V701.4M200.70 693.5V700.9M201.20 693.2V701.8M201.70 693.3V701.4M202.20 694.6V702.5M202.70 694.5V701.2M203.20 695.1V701.0M203.70 693.6V702.1M204.20 693.0V700.3M204.70 691.6V701.6M205.20 692.7V701.9M205.70 693.1V701.3M206.20 694.9V702.2M206.70 695.7V701.3M207.20 693.2V700.6M207.70 692.9V701.3M208.20 693.7V700.3M208.70 694.3V701.9M209.20 695.5V702.6M209.70 692.4V700.3M210.20 692.9V700.8M210.70 692.6V701.1M211.20 694.4V702.3M211.70 693.6V701.2M212.20 695.2V701.2M212.70 694.5V700.5M213.20 693.0V701.5M213.70 694.7V701.5M214.20 693.8V700.1M214.70 694.4V702.1M215.20 694.2V701.9M215.70 694.1V703.0M216.20 692.0V700.4M216.70 696.0V702.2M217.20 695.3V701.9M217.70 695.3V702.1M218.20 695.0V702.3M218.70 695.4V702.1M219.20 696.2V701.0M219.70 691.6V701.8M220.20 691.7V700.8M220.70 694.5V701.3M221.20 695.5V700.8M221.70 694.7V702.5M222.20 695.6V700.4M222.70 694.9V701.4M223.20 695.0V702.2M223.70 693.9V701.4M224.20 696.3V701.1M224.70 695.2V701.9M225.20 696.0V700.8M225.70 695.1V700.4M226.20 694.5V701.0M226.70 694.1V702.6M227.20 693.7V700.1M227.70 692.6V700.6M228.20 694.7V702.5M228.70 692.0V702.8M229.20 695.6V701.2M229.70 695.3V701.3M230.20 694.7V700.9M230.70 696.0V701.8M231.20 695.7V701.5M231.70 695.4V701.6M232.20 694.7V701.3M232.70 694.7V702.1M233.20 695.8V702.8M233.70 695.0V700.9M234.20 696.0V701.8M234.70 694.0V702.4M235.20 691.1V702.3M235.70 695.3V701.9M236.20 693.3V700.8M236.70 695.1V701.6M237.20 696.5V702.3M237.70 694.4V701.0M238.20 695.6V700.9M238.70 695.8V701.4M239.20 694.9V701.1M239.70 693.2V700.3M240.20 692.9V701.0M240.70 695.1V703.2M241.20 693.7V700.8M241.70 694.7V701.9M242.20 696.6V703.1M242.70 694.4V702.3M243.20 694.2V702.5M243.70 696.2V703.0M244.20 693.3V701.6M244.70 695.1V701.8M245.20 695.5V701.3M245.70 696.4V701.9M246.20 695.2V701.6M246.70 694.8V701.6M247.20 694.5V701.9M247.70 697.2V702.8M248.20 695.2V702.7M248.70 695.5V701.9M249.20 694.6V702.9M249.70 695.5V702.1M250.20 696.0V703.0M250.70 697.2V702.0M251.20 696.4V702.5" stroke="#9a9a9a" stroke-width="0.5" fill="none" opacity="0.55"/>
<path d="M19.20 658.7V669.1M19.70 663.9V670.5M20.20 642.4V671.1M20.70 663.4V670.7M21.20 659.0V671.6M21.70 653.9V671.8M22.20 663.1V672.2M22.70 651.9V673.3M23.20 665.1V672.7M23.70 667.7V674.0M24.20 660.2V674.1M24.70 646.6V674.3M25.20 662.6V674.4M25.70 667.1V674.7M26.20 665.9V674.9M26.70 656.3V675.9M27.20 653.0V676.0M27.70 668.8V675.5M28.20 663.9V676.4M28.70 657.5V676.9M29.20 669.2V676.7M29.70 666.0V677.5M30.20 650.7V676.7M30.70 668.4V677.4M31.20 671.2V678.2M31.70 669.0V678.1M32.20 647.4V678.7M32.70 665.0V679.1M33.20 668.6V679.3M33.70 668.9V679.1M34.20 673.5V679.9M34.70 673.6V680.4M35.20 669.8V680.3M35.70 673.7V680.6M36.20 676.7V681.3M36.70 668.2V681.5M37.20 677.5V681.9M37.70 672.3V682.0M38.20 676.5V681.5M38.70 676.0V682.5M39.20 676.4V683.2M39.70 665.7V683.1M40.20 673.8V683.6M40.70 678.5V684.2M41.20 672.8V683.4M41.70 677.8V683.5M42.20 675.1V684.2M42.70 678.5V683.8M43.20 679.0V684.9M43.70 677.6V685.1M44.20 678.1V684.9M44.70 677.9V684.9M45.20 678.8V684.8M45.70 670.6V685.0M46.20 679.8V685.0M46.70 681.1V685.8M47.20 681.3V685.6M47.70 674.6V685.9M48.20 672.9V686.5M48.70 681.1V685.7M49.20 677.1V686.7M49.70 678.2V687.0M50.20 679.7V686.1M50.70 665.6V686.4M51.20 682.6V687.4M51.70 677.0V687.2M52.20 677.5V687.1M52.70 681.2V687.8M53.20 678.5V687.1M53.70 679.6V688.0M54.20 682.6V687.4M54.70 681.3V688.2M55.20 680.3V688.4M55.70 684.8V688.2M56.20 682.1V687.7M56.70 682.1V688.2M57.20 682.4V687.8M57.70 683.6V688.2M58.20 684.9V688.1M58.70 681.3V688.8M59.20 682.9V688.1M59.70 674.4V689.2M60.20 685.7V688.9M60.70 683.4V689.1M61.20 685.7V689.6M61.70 682.7V689.2M62.20 674.9V689.5M62.70 682.9V688.8M63.20 683.0V688.9M63.70 686.1V689.3M64.20 686.1V690.0M64.70 683.4V690.4M65.20 686.2V689.4M65.70 686.2V689.8M66.20 687.1V690.5M66.70 679.6V689.9M67.20 686.5V690.9M67.70 686.1V690.5M68.20 685.9V691.2M68.70 685.6V690.7M69.20 684.1V691.5M69.70 688.5V691.7M70.20 684.1V691.1M70.70 685.3V691.8M71.20 684.6V692.1M71.70 684.6V692.0M72.20 689.0V692.3M72.70 689.6V692.7M73.20 682.2V691.8M73.70 686.8V692.1M74.20 687.3V692.2M74.70 688.3V693.3M75.20 688.3V692.4M75.70 691.0V693.7M76.20 690.2V693.4M76.70 689.7V693.2M77.20 685.1V692.6M77.70 681.3V692.8M78.20 690.7V693.6M78.70 689.7V693.4M79.20 687.5V693.3M79.70 691.3V694.0M80.20 677.5V693.5M80.70 689.7V693.2M81.20 689.5V693.2M81.70 690.4V693.4M82.20 688.2V693.2M82.70 683.6V693.2M83.20 690.3V694.0M83.70 688.4V694.0M84.20 689.7V693.6M84.70 685.0V693.9M85.20 688.9V693.4M85.70 691.7V694.4M86.20 689.5V693.7M86.70 689.7V694.4M87.20 687.2V694.4M87.70 689.5V694.1M88.20 691.2V694.6M88.70 691.2V694.2M89.20 691.0V694.2M89.70 682.6V693.6M90.20 688.2V694.4M90.70 690.0V694.7M91.20 691.7V694.2M91.70 689.6V694.4M92.20 688.8V694.3M92.70 685.4V694.2M93.20 688.3V694.3M93.70 682.6V694.7M94.20 690.2V693.9M94.70 689.7V693.9M95.20 685.8V694.1M95.70 677.9V694.5M96.20 689.3V695.0M96.70 685.2V694.8M97.20 691.5V694.3M97.70 689.8V694.4M98.20 692.3V694.8M98.70 691.6V694.7M99.20 691.3V694.4M99.70 689.4V695.3M100.20 691.0V694.3M100.70 690.6V694.7M101.20 690.7V694.4M101.70 690.0V694.5M102.20 692.4V695.1M102.70 688.5V694.8M103.20 692.3V694.9M103.70 690.6V695.0M104.20 687.9V694.6M104.70 692.5V694.8M105.20 692.3V694.5M105.70 692.5V694.9M106.20 691.1V695.3M106.70 690.3V694.9M107.20 687.3V694.5M107.70 689.0V695.0M108.20 692.4V695.2M108.70 693.0V695.7M109.20 692.3V695.0M109.70 692.9V695.4M110.20 692.4V695.5M110.70 692.7V695.0M111.20 691.8V694.8M111.70 690.7V695.5M112.20 688.4V695.5M112.70 690.4V695.0M113.20 692.3V695.1M113.70 693.4V695.8M114.20 692.3V695.2M114.70 692.6V695.0M115.20 688.2V695.5M115.70 691.0V695.3M116.20 690.7V694.8M116.70 692.2V695.4M117.20 692.2V695.6M117.70 692.9V695.3M118.20 693.3V696.1M118.70 691.8V695.6M119.20 692.5V695.6M119.70 685.7V695.8M120.20 692.7V695.5M120.70 691.5V695.3M121.20 691.6V695.1M121.70 693.3V696.0M122.20 692.9V695.9M122.70 691.0V696.0M123.20 692.5V695.2M123.70 691.4V696.2M124.20 691.2V696.2M124.70 690.3V696.0M125.20 692.6V695.5M125.70 692.4V696.3M126.20 691.6V695.3M126.70 693.0V695.9M127.20 688.1V695.5M127.70 688.9V695.8M128.20 691.1V695.7M128.70 690.0V696.3M129.20 692.4V695.5M129.70 693.2V695.3M130.20 690.0V696.2M130.70 693.8V696.5M131.20 691.0V695.6M131.70 692.8V695.8M132.20 690.9V695.6M132.70 692.1V695.8M133.20 693.6V696.5M133.70 692.7V695.9M134.20 693.8V696.2M134.70 693.7V696.2M135.20 693.9V696.2M135.70 693.7V696.3M136.20 691.4V695.5M136.70 693.2V696.1M137.20 693.0V696.6M137.70 693.0V696.7M138.20 693.0V696.4M138.70 692.0V695.9M139.20 692.7V696.6M139.70 693.1V696.1M140.20 691.6V695.8M140.70 690.9V695.9M141.20 691.4V695.7M141.70 692.4V695.9M142.20 682.0V696.4M142.70 691.8V696.1M143.20 693.3V696.3M143.70 689.6V696.1M144.20 692.9V696.2M144.70 691.5V696.3M145.20 692.7V695.9M145.70 689.2V696.5M146.20 689.3V696.7M146.70 693.5V696.4M147.20 690.9V697.0M147.70 691.5V695.9M148.20 691.2V696.3M148.70 690.8V696.6M149.20 687.7V696.4M149.70 691.0V696.5M150.20 693.0V696.6M150.70 693.1V696.4M151.20 685.9V696.0M151.70 695.0V697.0M152.20 694.8V696.8M152.70 693.6V696.7M153.20 692.7V697.1M153.70 693.9V696.6M154.20 693.3V696.5M154.70 693.0V696.1M155.20 691.3V696.4M155.70 687.7V697.2M156.20 693.6V696.4M156.70 693.5V696.1M157.20 694.5V696.6M157.70 692.2V696.5M158.20 688.8V696.8M158.70 691.6V696.1M159.20 694.1V697.1M159.70 694.3V696.5M160.20 687.2V696.3M160.70 694.5V696.7M161.20 688.7V696.7M161.70 694.8V697.1M162.20 692.8V696.4M162.70 685.6V696.6M163.20 694.0V696.5M163.70 693.3V697.1M164.20 694.7V696.8M164.70 694.3V697.1M165.20 694.8V697.2M165.70 689.2V696.4M166.20 691.0V697.4M166.70 693.7V696.3M167.20 693.1V696.7M167.70 692.4V697.4M168.20 689.0V697.3M168.70 688.4V696.9M169.20 688.2V696.7M169.70 684.2V696.5M170.20 693.4V697.2M170.70 693.8V697.4M171.20 693.9V697.0M171.70 694.9V697.1M172.20 689.7V697.6M172.70 693.0V697.0M173.20 694.9V697.1M173.70 692.9V696.5M174.20 686.0V696.5M174.70 694.3V696.9M175.20 690.5V697.3M175.70 694.6V697.1M176.20 694.3V696.8M176.70 695.3V697.3M177.20 694.2V697.0M177.70 693.9V696.7M178.20 689.0V697.2M178.70 690.9V697.6M179.20 689.1V697.7M179.70 694.4V697.6M180.20 694.9V697.7M180.70 693.0V696.7M181.20 694.0V696.7M181.70 694.1V696.8M182.20 695.0V697.3M182.70 695.3V697.5M183.20 693.2V696.6M183.70 694.1V696.6M184.20 690.6V697.4M184.70 694.8V697.2M185.20 694.2V696.8M185.70 694.8V697.4M186.20 693.9V697.3M186.70 693.7V697.0M187.20 694.3V697.5M187.70 690.5V697.7M188.20 695.2V697.8M188.70 691.4V696.9M189.20 692.1V697.7M189.70 693.6V697.0M190.20 695.9V697.8M190.70 693.3V697.8M191.20 690.4V696.9M191.70 694.1V697.4M192.20 692.7V697.0M192.70 693.0V697.2M193.20 689.1V697.9M193.70 693.8V697.2M194.20 695.0V697.4M194.70 693.4V696.9M195.20 688.2V697.3M195.70 689.6V697.7M196.20 692.9V698.0M196.70 694.5V697.2M197.20 694.1V697.4M197.70 693.8V696.9M198.20 693.3V697.8M198.70 695.2V697.0M199.20 693.7V697.0M199.70 690.7V697.0M200.20 693.4V698.0M200.70 694.5V697.5M201.20 694.6V697.5M201.70 694.8V697.4M202.20 695.4V697.8M202.70 694.4V697.4M203.20 695.0V697.2M203.70 694.2V698.0M204.20 694.0V697.7M204.70 689.3V698.0M205.20 690.7V697.6M205.70 694.4V697.5M206.20 696.2V698.2M206.70 695.3V698.1M207.20 691.4V697.9M207.70 692.4V697.2M208.20 694.8V697.1M208.70 695.5V698.2M209.20 695.5V697.9M209.70 691.8V697.6M210.20 691.0V697.6M210.70 693.0V697.4M211.20 695.1V697.9M211.70 692.8V697.3M212.20 695.5V698.0M212.70 695.7V697.5M213.20 694.0V697.4M213.70 694.6V698.0M214.20 692.5V697.8M214.70 693.7V697.6M215.20 693.4V698.3M215.70 692.5V698.4M216.20 691.7V698.0M216.70 695.6V698.5M217.20 694.7V698.5M217.70 695.3V698.4M218.20 693.9V698.1M218.70 695.8V697.8M219.20 696.4V698.3M219.70 688.5V697.4M220.20 689.7V697.6M220.70 696.2V698.4M221.20 695.9V697.8M221.70 694.2V698.5M222.20 695.2V698.0M222.70 696.5V698.6M223.20 694.5V698.1M223.70 695.4V697.6M224.20 696.5V698.4M224.70 694.7V697.6M225.20 696.2V698.3M225.70 695.6V697.8M226.20 695.0V698.2M226.70 694.2V698.0M227.20 695.0V697.7M227.70 692.8V697.9M228.20 696.1V698.1M228.70 691.2V698.1M229.20 696.5V698.6M229.70 696.1V698.6M230.20 695.8V698.2M230.70 695.0V698.7M231.20 696.1V698.0M231.70 695.6V698.6M232.20 696.5V698.6M232.70 695.5V698.5M233.20 696.6V698.5M233.70 695.8V698.6M234.20 696.2V698.0M234.70 694.6V698.8M235.20 688.6V698.5M235.70 695.9V698.4M236.20 693.6V697.9M236.70 695.5V698.4M237.20 696.6V698.4M237.70 694.3V698.0M238.20 696.5V698.3M238.70 696.2V698.0M239.20 696.0V698.6M239.70 691.1V697.9M240.20 691.4V698.6M240.70 696.5V699.0M241.20 694.5V698.0M241.70 693.9V698.6M242.20 696.8V698.8M242.70 695.8V698.6M243.20 694.3V698.1M243.70 696.4V699.2M244.20 693.2V698.4M244.70 696.8V698.8M245.20 694.5V698.5M245.70 696.3V699.0M246.20 696.8V698.6M246.70 693.1V698.3M247.20 695.9V698.8M247.70 697.2V699.2M248.20 696.1V698.2M248.70 696.2V699.3M249.20 694.3V698.8M249.70 697.3V699.1M250.20 696.3V698.7M250.70 697.2V699.1M251.20 696.2V699.1" stroke="#303030" stroke-width="0.5" fill="none" opacity="0.85"/>
<path d="M19.20 663.6V675.7M19.70 664.9V676.7M20.20 667.5V677.8M20.70 665.5V674.4M21.20 665.4V676.8M21.70 665.2V678.4M22.20 668.6V678.1M22.70 669.9V677.3M23.20 667.4V678.6M23.70 670.2V678.1M24.20 669.4V678.0M24.70 670.4V678.5M25.20 669.9V680.3M25.70 669.2V678.9M26.20 670.0V679.2M26.70 672.3V679.5M27.20 670.2V679.7M27.70 672.3V681.3M28.20 672.5V679.9M28.70 672.3V680.7M29.20 673.6V680.1M29.70 672.0V682.1M30.20 671.5V681.4M30.70 672.0V680.4M31.20 673.4V683.3M31.70 673.4V683.0M32.20 675.8V682.9M32.70 675.0V682.9M33.20 675.4V682.5M33.70 676.5V682.5M34.20 676.2V684.7M34.70 675.6V685.1M35.20 675.8V684.9M35.70 677.4V683.6M36.20 676.5V684.9M36.70 677.6V684.7M37.20 678.9V684.8M37.70 677.7V686.7M38.20 678.0V685.6M38.70 678.6V686.6M39.20 679.2V686.0M39.70 678.7V687.3M40.20 679.4V687.4M40.70 680.6V688.3M41.20 680.0V686.9M41.70 679.4V686.2M42.20 680.3V688.3M42.70 681.1V687.3M43.20 681.4V687.8M43.70 680.8V688.4M44.20 682.6V689.2M44.70 681.3V687.3M45.20 681.6V687.3M45.70 682.5V688.5M46.20 682.4V688.6M46.70 683.4V689.0M47.20 682.6V688.8M47.70 682.1V689.2M48.20 683.8V689.2M48.70 683.2V689.2M49.20 684.3V689.5M49.70 684.7V690.0M50.20 683.8V688.2M50.70 684.0V690.0M51.20 684.6V690.9M51.70 685.1V690.5M52.20 684.7V689.4M52.70 684.6V690.5M53.20 683.5V690.5M53.70 684.7V691.3M54.20 684.6V689.4M54.70 685.1V690.8M55.20 685.3V691.6M55.70 685.8V690.8M56.20 684.2V690.6M56.70 684.9V690.3M57.20 685.0V690.0M57.70 685.4V691.1M58.20 685.0V690.5M58.70 686.2V692.2M59.20 684.6V690.7M59.70 686.1V691.9M60.20 686.3V691.1M60.70 686.5V691.4M61.20 686.1V692.7M61.70 686.8V691.5M62.20 687.4V691.7M62.70 686.5V691.3M63.20 686.0V691.6M63.70 686.3V692.5M64.20 687.8V692.4M64.70 688.1V693.0M65.20 686.3V691.3M65.70 686.8V691.7M66.20 687.6V692.7M66.70 687.0V692.6M67.20 688.7V693.1M67.70 688.2V692.8M68.20 688.6V694.2M68.70 688.9V693.2M69.20 689.7V694.0M69.70 689.9V694.4M70.20 688.2V693.5M70.70 689.3V694.3M71.20 689.4V695.1M71.70 689.6V694.8M72.20 689.1V694.5M72.70 691.0V694.8M73.20 689.5V694.3M73.70 690.2V694.9M74.20 689.5V694.3M74.70 690.3V695.4M75.20 689.4V695.2M75.70 691.1V695.7M76.20 690.9V695.2M76.70 690.7V696.3M77.20 689.8V695.4M77.70 690.5V695.0M78.20 691.5V696.6M78.70 691.6V696.1M79.20 690.7V695.4M79.70 691.2V696.5M80.20 691.3V695.1M80.70 691.1V695.6M81.20 691.4V695.8M81.70 690.7V695.0M82.20 691.1V695.9M82.70 691.1V694.8M83.20 691.3V696.1M83.70 691.1V696.6M84.20 691.2V695.2M84.70 692.2V696.5M85.20 690.9V696.3M85.70 692.1V696.2M86.20 691.0V695.7M86.70 692.2V696.7M87.20 692.1V696.0M87.70 691.5V695.8M88.20 691.9V697.0M88.70 691.7V695.7M89.20 692.5V696.4M89.70 691.3V695.3M90.20 692.0V696.8M90.70 692.7V696.7M91.20 691.6V696.0M91.70 692.0V696.2M92.20 692.4V695.8M92.70 692.5V695.7M93.20 691.8V696.0M93.70 693.2V696.8M94.20 691.4V696.3M94.70 691.3V695.6M95.20 692.4V696.7M95.70 692.9V696.9M96.20 693.5V696.5M96.70 693.3V697.0M97.20 692.1V695.9M97.70 692.3V696.9M98.20 693.1V696.9M98.70 693.3V696.7M99.20 692.2V696.0M99.70 693.9V697.2M100.20 692.3V696.4M100.70 692.4V696.9M101.20 692.3V696.0M101.70 692.6V696.0M102.20 693.1V697.4M102.70 692.9V696.4M103.20 692.7V696.5M103.70 693.1V696.7M104.20 693.1V696.7M104.70 693.2V697.2M105.20 692.7V696.7M105.70 693.2V696.7M106.20 693.7V696.9M106.70 693.2V697.3M107.20 692.8V696.6M107.70 692.7V696.7M108.20 693.7V696.7M108.70 693.6V698.0M109.20 693.4V696.3M109.70 693.8V697.2M110.20 693.1V696.8M110.70 692.8V696.9M111.20 692.8V696.1M111.70 693.9V697.6M112.20 693.8V697.3M112.70 693.6V696.3M113.20 693.0V697.4M113.70 694.2V697.8M114.20 693.6V697.1M114.70 692.9V696.5M115.20 693.4V697.4M115.70 694.0V697.1M116.20 693.2V697.1M116.70 693.4V697.8M117.20 693.6V697.3M117.70 693.0V696.6M118.20 694.6V697.5M118.70 693.8V697.1M119.20 693.4V698.0M119.70 693.7V697.8M120.20 693.6V697.2M120.70 693.7V696.7M121.20 693.1V696.5M121.70 693.8V697.3M122.20 694.4V697.9M122.70 694.1V697.7M123.20 693.5V697.2M123.70 693.9V697.6M124.20 693.9V697.5M124.70 693.6V697.4M125.20 693.4V697.7M125.70 694.7V698.3M126.20 693.0V696.8M126.70 694.5V697.8M127.20 694.2V696.8M127.70 693.5V697.2M128.20 694.4V697.5M128.70 694.0V698.0M129.20 694.1V696.8M129.70 693.8V697.6M130.20 694.5V698.3M130.70 694.8V698.4M131.20 694.0V697.2M131.70 694.3V698.0M132.20 693.6V697.4M132.70 694.1V697.0M133.20 695.1V698.7M133.70 693.7V697.4M134.20 694.0V697.8M134.70 694.6V698.1M135.20 694.5V698.0M135.70 694.6V697.9M136.20 693.7V697.2M136.70 693.8V698.1M137.20 695.3V698.8M137.70 694.6V698.7M138.20 695.0V698.5M138.70 694.0V697.2M139.20 694.5V698.6M139.70 694.8V697.3M140.20 694.3V697.9M140.70 694.0V698.0M141.20 694.1V697.2M141.70 694.6V697.8M142.20 694.9V697.8M142.70 694.5V697.4M143.20 694.6V698.4M143.70 694.0V697.5M144.20 694.2V698.0M144.70 694.1V697.7M145.20 693.8V697.3M145.70 694.7V697.7M146.20 694.8V698.2M146.70 694.8V698.0M147.20 694.8V698.6M147.70 694.3V697.5M148.20 695.0V697.8M148.70 694.7V698.0M149.20 695.3V698.5M149.70 694.8V697.8M150.20 695.3V697.8M150.70 695.2V697.8M151.20 694.0V697.3M151.70 694.8V698.5M152.20 695.5V698.5M152.70 694.7V697.9M153.20 695.6V698.7M153.70 694.5V698.1M154.20 694.9V698.0M154.70 694.4V697.8M155.20 694.8V697.8M155.70 696.0V698.9M156.20 694.6V698.1M156.70 694.9V697.5M157.20 695.1V698.4M157.70 694.5V698.4M158.20 695.1V698.9M158.70 694.2V697.7M159.20 695.5V699.0M159.70 694.6V697.7M160.20 695.0V697.7M160.70 695.0V698.7M161.20 695.2V698.5M161.70 695.9V699.0M162.20 694.9V698.1M162.70 694.9V698.3M163.20 694.7V698.3M163.70 695.5V698.9M164.20 695.5V698.7M164.70 695.4V698.8M165.20 696.0V699.2M165.70 694.5V698.2M166.20 695.6V698.9M166.70 694.7V697.7M167.20 695.2V698.1M167.70 695.6V699.0M168.20 695.9V698.5M168.70 695.4V698.8M169.20 694.6V697.9M169.70 694.8V697.8M170.20 696.0V698.3M170.70 695.7V698.5M171.20 695.7V698.9M171.70 695.0V698.8M172.20 695.5V699.6M172.70 695.3V698.8M173.20 695.0V698.2M173.70 694.5V698.3M174.20 695.3V698.4M174.70 695.8V698.8M175.20 695.7V698.6M175.70 695.2V698.5M176.20 694.8V698.1M176.70 695.4V699.0M177.20 694.9V698.5M177.70 694.8V698.6M178.20 695.4V698.8M178.70 696.4V699.0M179.20 696.4V699.5M179.70 695.8V699.7M180.20 696.5V699.0M180.70 695.1V698.4M181.20 695.4V697.9M181.70 695.4V698.5M182.20 695.4V698.9M182.70 696.0V698.7M183.20 695.3V698.6M183.70 695.2V697.8M184.20 696.0V698.8M184.70 695.8V699.2M185.20 695.2V698.9M185.70 696.1V699.4M186.20 695.7V699.4M186.70 695.3V698.7M187.20 695.4V698.8M187.70 695.8V699.0M188.20 696.3V699.4M188.70 695.6V698.9M189.20 695.9V699.6M189.70 695.0V698.1M190.20 695.8V699.6M190.70 696.4V699.1M191.20 695.1V698.1M191.70 695.4V699.2M192.20 695.1V698.3M192.70 695.8V698.4M193.20 695.9V699.3M193.70 695.8V698.8M194.20 695.5V698.7M194.70 695.8V698.3M195.20 696.0V698.9M195.70 696.1V699.5M196.20 696.4V699.3M196.70 695.4V699.0M197.20 695.9V698.6M197.70 695.6V698.7M198.20 696.3V699.5M198.70 695.9V698.6M199.20 695.0V698.9M199.70 695.7V698.3M200.20 696.6V699.8M200.70 696.1V699.2M201.20 695.5V699.0M201.70 695.7V699.2M202.20 696.2V699.5M202.70 695.6V698.5M203.20 695.8V699.3M203.70 696.1V699.4M204.20 696.4V699.5M204.70 696.6V699.7M205.20 696.4V699.3M205.70 696.3V699.2M206.20 696.8V700.0M206.70 696.6V699.4M207.20 696.7V699.2M207.70 696.1V699.1M208.20 695.3V699.1M208.70 696.9V699.7M209.20 695.8V699.2M209.70 696.1V699.0M210.20 695.8V698.9M210.70 695.7V698.6M211.20 696.7V699.0M211.70 696.1V698.4M212.20 696.7V699.6M212.70 696.2V698.8M213.20 695.5V698.9M213.70 696.3V699.7M214.20 696.2V699.4M214.70 696.5V699.5M215.20 696.6V700.0M215.70 696.3V700.3M216.20 696.4V699.3M216.70 697.4V699.7M217.20 697.0V700.3M217.70 696.7V699.7M218.20 697.0V699.4M218.70 695.8V699.4M219.20 696.5V699.4M219.70 696.2V698.9M220.20 696.0V699.3M220.70 697.1V700.2M221.20 695.8V699.5M221.70 696.7V700.5M222.20 696.9V699.6M222.70 697.2V700.0M223.20 696.5V699.9M223.70 695.7V698.7M224.20 696.6V700.2M224.70 696.5V699.5M225.20 696.3V699.3M225.70 696.1V699.0M226.20 696.7V699.7M226.70 696.9V699.9M227.20 696.3V699.5M227.70 696.6V699.7M228.20 696.2V699.9M228.70 696.4V700.0M229.20 697.0V700.6M229.70 697.5V700.2M230.20 696.3V700.2M230.70 697.5V700.3M231.20 696.0V699.7M231.70 696.7V700.5M232.20 697.1V700.3M232.70 697.3V699.5M233.20 696.6V699.6M233.70 697.0V700.4M234.20 697.0V699.2M234.70 697.4V699.9M235.20 696.6V700.2M235.70 697.3V699.9M236.20 696.7V699.5M236.70 696.8V700.2M237.20 697.0V700.4M237.70 696.8V699.5M238.20 696.4V699.5M238.70 696.2V699.8M239.20 697.5V700.5M239.70 696.3V699.4M240.20 697.2V700.0M240.70 697.1V700.6M241.20 696.5V699.1M241.70 697.3V699.8M242.20 697.1V700.3M242.70 696.9V699.9M243.20 696.4V699.7M243.70 697.7V700.8M244.20 697.1V700.3M244.70 697.5V700.1M245.20 697.4V699.7M245.70 697.7V700.8M246.20 697.3V700.3M246.70 697.2V699.4M247.20 697.5V699.9M247.70 697.4V700.8M248.20 697.1V699.6M248.70 697.5V700.9M249.20 697.4V700.3M249.70 698.0V700.3M250.20 697.2V700.2M250.70 698.1V700.7M251.20 697.5V700.8" stroke="#151515" stroke-width="0.6" fill="none"/>
<rect x="55.7" y="541.8" width="7.6" height="1.6" fill="#8e8e8e" opacity="0.85"/>
<rect x="57.5" y="620.0" width="7.5" height="1.6" fill="#8e8e8e" opacity="0.85"/>
<rect x="25.8" y="610.5" width="6.5" height="1.6" fill="#8e8e8e" opacity="0.85"/>
<rect x="25.4" y="627.6" width="6.2" height="1.6" fill="#8e8e8e" opacity="0.85"/>
<rect x="22.8" y="644.2" width="5.9" height="1.6" fill="#8e8e8e" opacity="0.85"/>
<rect x="27.2" y="651.7" width="5.8" height="1.6" fill="#8e8e8e" opacity="0.85"/>
<rect x="31.0" y="666.5" width="6.0" height="1.6" fill="#8e8e8e" opacity="0.85"/>
<rect x="27.0" y="672.2" width="6.0" height="1.6" fill="#8e8e8e" opacity="0.85"/>
<rect x="59.5" y="663.2" width="6.5" height="1.6" fill="#8e8e8e" opacity="0.85"/>
<rect x="55.2" y="672.7" width="5.8" height="1.6" fill="#8e8e8e" opacity="0.85"/>
<rect x="89.0" y="688.7" width="7.0" height="1.6" fill="#8e8e8e" opacity="0.85"/>
<rect x="117.0" y="691.2" width="7.0" height="1.6" fill="#8e8e8e" opacity="0.85"/>
<line x1="274.6" y1="543" x2="274.6" y2="738.8" stroke="#c4c4c4" stroke-width="0.9" />
<line x1="507.8" y1="543" x2="507.8" y2="738.8" stroke="#c4c4c4" stroke-width="0.9" />
<line x1="274.6" y1="738.8" x2="507.8" y2="738.8" stroke="#c4c4c4" stroke-width="0.9" />
<rect x="267.6" y="542.3" width="3.8" height="1.4" fill="#8a8a8a"/>
<rect x="269.0" y="561.9" width="2.4" height="1.4" fill="#8a8a8a"/>
<rect x="269.0" y="581.5" width="2.4" height="1.4" fill="#8a8a8a"/>
<rect x="269.0" y="601.0" width="2.4" height="1.4" fill="#8a8a8a"/>
<rect x="269.0" y="620.6" width="2.4" height="1.4" fill="#8a8a8a"/>
<rect x="269.0" y="640.2" width="2.4" height="1.4" fill="#8a8a8a"/>
<rect x="269.0" y="659.8" width="2.4" height="1.4" fill="#8a8a8a"/>
<rect x="269.0" y="679.4" width="2.4" height="1.4" fill="#8a8a8a"/>
<rect x="269.0" y="698.9" width="2.4" height="1.4" fill="#8a8a8a"/>
<rect x="269.0" y="718.5" width="2.4" height="1.4" fill="#8a8a8a"/>
<rect x="269.0" y="738.1" width="2.4" height="1.4" fill="#8a8a8a"/>
<rect x="273.1" y="740.6" width="3" height="1.3" fill="#9a9a9a"/>
<rect x="319.1" y="740.6" width="4.2" height="1.3" fill="#9a9a9a"/>
<rect x="365.8" y="740.6" width="4.2" height="1.3" fill="#9a9a9a"/>
<rect x="412.4" y="740.6" width="4.2" height="1.3" fill="#9a9a9a"/>
<rect x="459.1" y="740.6" width="4.2" height="1.3" fill="#9a9a9a"/>
<rect x="505.7" y="740.6" width="4.2" height="1.3" fill="#9a9a9a"/>
<rect x="305.2" y="656" width="6.5" height="28" fill="#cfcfcf"/>
<line x1="306.4" y1="541.8" x2="306.4" y2="684.0111111111112" stroke="#a5a5a5" stroke-width="1.2" />
<line x1="309.4" y1="588.9" x2="309.4" y2="684.2055555555555" stroke="#a0a0a0" stroke-width="0.9" />
<line x1="304.9" y1="628.4" x2="304.9" y2="683.9138888888889" stroke="#8a8a8a" stroke-width="0.9" />
<line x1="278.1" y1="631.2" x2="278.1" y2="679.7297297297297" stroke="#8a8a8a" stroke-width="0.9" />
<line x1="281" y1="642.8" x2="281" y2="680.5135135135135" stroke="#8a8a8a" stroke-width="0.9" />
<line x1="311.4" y1="656" x2="311.4" y2="684.3351851851852" stroke="#9a9a9a" stroke-width="0.8" />
<line x1="319.4" y1="671.6" x2="319.4" y2="684.7656716417911" stroke="#9a9a9a" stroke-width="0.8" />
<line x1="461.7" y1="676.6" x2="461.7" y2="688.1071129707113" stroke="#8a8a8a" stroke-width="0.7" />
<line x1="344.5" y1="673" x2="344.5" y2="686.5128205128204" stroke="#aaa" stroke-width="0.6" />
<path d="M275.00 673.8V685.0M275.50 673.9V683.4M276.00 672.6V686.0M276.50 666.9V684.9M277.00 673.9V685.5M277.50 673.5V684.5M278.00 673.0V684.5M278.50 672.4V684.3M279.00 674.1V686.2M279.50 676.7V687.0M280.00 669.1V686.6M280.50 675.1V684.9M281.00 676.8V686.6M281.50 672.4V687.4M282.00 674.9V686.9M282.50 673.2V686.8M283.00 675.0V687.0M283.50 675.7V685.8M284.00 673.5V686.0M284.50 675.8V686.7M285.00 675.2V685.8M285.50 674.8V686.6M286.00 671.7V686.4M286.50 678.2V686.5M287.00 678.0V686.8M287.50 673.5V687.3M288.00 676.0V685.5M288.50 677.0V687.8M289.00 676.9V687.4M289.50 675.7V687.5M290.00 675.2V686.7M290.50 677.6V688.2M291.00 673.4V687.8M291.50 677.9V688.1M292.00 677.5V687.6M292.50 677.9V688.5M293.00 677.5V689.0M293.50 679.9V688.1M294.00 672.4V687.8M294.50 678.9V687.7M295.00 679.1V687.8M295.50 678.4V687.7M296.00 675.8V686.5M296.50 678.7V688.8M297.00 679.7V686.5M297.50 678.9V688.6M298.00 679.4V687.6M298.50 680.7V689.7M299.00 677.2V687.8M299.50 677.2V687.5M300.00 677.9V687.8M300.50 679.0V688.8M301.00 678.5V689.2M301.50 678.5V689.7M302.00 679.8V689.9M302.50 679.7V687.7M303.00 678.2V688.9M303.50 678.5V689.0M304.00 678.4V687.9M304.50 678.1V687.5M305.00 677.4V687.8M305.50 675.4V689.7M306.00 678.5V688.3M306.50 678.7V688.2M307.00 679.5V687.7M307.50 679.0V689.3M308.00 677.8V688.5M308.50 674.6V690.0M309.00 678.2V688.3M309.50 681.2V687.9M310.00 678.1V688.6M310.50 679.4V689.3M311.00 680.0V689.7M311.50 680.8V688.9M312.00 679.5V689.3M312.50 678.3V688.6M313.00 679.9V688.9M313.50 678.5V690.0M314.00 680.6V687.6M314.50 677.0V687.6M315.00 678.6V689.0M315.50 681.5V687.9M316.00 679.8V688.5M316.50 680.7V687.6M317.00 681.6V689.1M317.50 678.9V689.2M318.00 679.0V688.8M318.50 680.2V690.5M319.00 678.8V687.7M319.50 680.9V688.6M320.00 679.9V687.2M320.50 680.8V688.7M321.00 678.2V689.2M321.50 679.4V688.9M322.00 677.7V689.2M322.50 678.8V687.6M323.00 677.9V689.9M323.50 678.1V690.6M324.00 681.2V689.0M324.50 680.7V689.3M325.00 678.0V688.3M325.50 681.4V689.2M326.00 679.9V689.5M326.50 681.3V688.1M327.00 678.7V690.2M327.50 679.8V689.7M328.00 682.1V688.8M328.50 682.0V688.7M329.00 681.4V689.5M329.50 680.1V688.6M330.00 678.9V690.2M330.50 681.5V690.3M331.00 680.1V689.9M331.50 680.9V689.4M332.00 681.3V689.6M332.50 681.8V689.1M333.00 681.6V690.4M333.50 681.9V689.2M334.00 682.0V688.7M334.50 682.6V688.7M335.00 681.7V690.8M335.50 680.3V689.4M336.00 681.1V689.9M336.50 683.0V690.4M337.00 682.2V689.6M337.50 681.9V689.1M338.00 682.8V691.6M338.50 683.2V691.7M339.00 681.8V691.3M339.50 683.5V689.5M340.00 681.6V690.1M340.50 679.5V689.5M341.00 682.6V691.7M341.50 680.2V690.2M342.00 680.6V689.4M342.50 681.6V689.1M343.00 682.0V690.8M343.50 683.1V689.7M344.00 679.8V690.0M344.50 679.7V691.6M345.00 682.6V690.1M345.50 683.5V690.6M346.00 682.8V692.2M346.50 681.8V691.6M347.00 682.5V690.1M347.50 683.0V689.5M348.00 681.8V691.3M348.50 682.3V690.3M349.00 683.8V689.5M349.50 682.2V689.1M350.00 682.8V690.1M350.50 681.4V691.5M351.00 681.9V689.1M351.50 680.6V690.4M352.00 682.6V690.6M352.50 679.1V689.8M353.00 683.0V691.7M353.50 683.0V690.6M354.00 682.2V689.5M354.50 683.0V690.5M355.00 682.3V691.8M355.50 683.7V691.1M356.00 682.5V691.6M356.50 683.1V690.2M357.00 682.7V691.3M357.50 683.7V691.5M358.00 683.2V691.4M358.50 683.6V692.4M359.00 684.2V691.9M359.50 680.2V691.2M360.00 683.3V691.0M360.50 681.5V690.7M361.00 682.1V690.7M361.50 682.6V691.2M362.00 684.7V691.3M362.50 681.6V691.5M363.00 683.1V689.9M363.50 678.7V690.4M364.00 682.7V691.0M364.50 682.7V690.8M365.00 684.4V690.4M365.50 682.7V692.5M366.00 679.9V692.3M366.50 684.2V692.2M367.00 679.9V690.1M367.50 683.6V689.6M368.00 684.0V691.6M368.50 683.7V692.6M369.00 681.9V691.0M369.50 680.6V690.4M370.00 682.9V690.0M370.50 683.8V691.6M371.00 683.5V689.9M371.50 684.4V691.9M372.00 678.9V691.7M372.50 684.7V690.8M373.00 683.4V690.5M373.50 684.7V691.3M374.00 681.6V690.9M374.50 684.7V692.2M375.00 685.1V691.3M375.50 678.6V691.3M376.00 683.7V691.2M376.50 684.4V692.1M377.00 683.1V691.0M377.50 683.2V690.4M378.00 681.7V691.0M378.50 682.5V689.9M379.00 684.1V690.4M379.50 683.1V691.8M380.00 684.2V691.1M380.50 681.4V691.6M381.00 681.0V690.5M381.50 684.9V689.8M382.00 684.8V692.3M382.50 684.4V691.8M383.00 683.3V692.4M383.50 684.2V690.8M384.00 683.3V692.3M384.50 682.5V690.8M385.00 681.2V691.3M385.50 684.1V689.9M386.00 684.1V690.7M386.50 683.1V690.5M387.00 682.6V690.5M387.50 680.9V690.9M388.00 683.6V690.8M388.50 684.0V690.6M389.00 684.4V690.7M389.50 683.7V689.8M390.00 682.4V692.5M390.50 682.2V691.1M391.00 683.6V691.0M391.50 682.3V691.8M392.00 683.9V692.7M392.50 682.7V690.3M393.00 681.3V692.4M393.50 684.1V691.6M394.00 684.0V692.0M394.50 684.3V691.4M395.00 683.3V689.9M395.50 683.4V690.5M396.00 684.5V691.9M396.50 684.8V690.5M397.00 681.8V690.7M397.50 683.3V690.6M398.00 685.0V692.2M398.50 683.9V690.7M399.00 684.4V690.8M399.50 681.4V690.4M400.00 684.9V692.1M400.50 685.0V691.3M401.00 683.9V691.1M401.50 683.7V691.6M402.00 684.7V690.7M402.50 683.9V691.1M403.00 682.8V690.8M403.50 683.2V691.3M404.00 681.9V691.1M404.50 683.1V690.6M405.00 680.7V692.5M405.50 685.7V692.6M406.00 684.4V690.5M406.50 684.8V691.2M407.00 682.5V690.2M407.50 684.5V691.9M408.00 681.6V691.3M408.50 684.2V690.5M409.00 684.0V692.0M409.50 684.3V691.6M410.00 682.1V690.0M410.50 682.9V691.7M411.00 683.9V690.8M411.50 682.5V690.3M412.00 683.9V691.9M412.50 684.6V690.7M413.00 685.4V692.4M413.50 685.6V692.8M414.00 683.8V690.7M414.50 684.0V691.4M415.00 684.1V692.9M415.50 683.8V691.7M416.00 683.5V690.2M416.50 685.7V690.8M417.00 682.9V690.2M417.50 683.9V692.0M418.00 684.4V689.7M418.50 684.6V691.0M419.00 684.5V692.8M419.50 684.9V691.2M420.00 684.7V691.1M420.50 683.9V692.4M421.00 683.3V690.0M421.50 682.6V690.2M422.00 684.5V692.8M422.50 684.9V689.9M423.00 683.9V690.9M423.50 683.2V690.8M424.00 685.0V692.0M424.50 686.0V690.6M425.00 683.3V692.1M425.50 683.5V691.2M426.00 684.7V691.2M426.50 684.4V690.8M427.00 680.9V691.8M427.50 684.4V691.3M428.00 685.2V693.0M428.50 681.9V690.8M429.00 682.7V691.4M429.50 683.7V691.5M430.00 682.4V692.9M430.50 681.5V692.1M431.00 684.1V692.3M431.50 683.4V691.3M432.00 686.0V692.3M432.50 685.7V692.2M433.00 685.5V691.5M433.50 685.4V691.1M434.00 684.3V692.3M434.50 685.1V693.0M435.00 684.7V690.6M435.50 684.3V690.8M436.00 684.6V691.5M436.50 685.4V689.9M437.00 684.8V691.4M437.50 685.6V691.2M438.00 684.0V692.7M438.50 686.0V692.8M439.00 686.0V693.0M439.50 682.0V691.1M440.00 680.9V690.7M440.50 684.4V690.9M441.00 684.7V690.7M441.50 686.1V690.9M442.00 683.5V691.6M442.50 684.3V691.6M443.00 681.9V692.5M443.50 682.0V691.1M444.00 684.7V691.6M444.50 683.6V691.0M445.00 681.0V692.0M445.50 686.4V690.9M446.00 681.5V692.2M446.50 684.8V691.4M447.00 683.7V691.4M447.50 682.4V692.1M448.00 684.7V692.5M448.50 682.9V692.2M449.00 685.3V692.0M449.50 684.0V691.1M450.00 683.9V692.6M450.50 684.0V691.0M451.00 684.7V691.2M451.50 683.2V692.0M452.00 685.1V691.3M452.50 684.4V690.7M453.00 680.6V691.9M453.50 684.5V692.2M454.00 685.7V690.8M454.50 684.6V691.3M455.00 681.4V690.9M455.50 683.3V693.1M456.00 683.0V691.7M456.50 684.6V690.5M457.00 684.3V693.4M457.50 684.6V691.8M458.00 682.2V690.8M458.50 683.6V691.3M459.00 686.2V691.5M459.50 685.8V690.8M460.00 683.2V692.7M460.50 685.2V691.9M461.00 685.8V693.3M461.50 681.9V692.3M462.00 684.3V693.0M462.50 685.6V690.9M463.00 683.8V691.9M463.50 684.2V690.6M464.00 683.7V691.0M464.50 685.8V692.1M465.00 686.5V692.7M465.50 685.0V690.9M466.00 685.5V692.2M466.50 684.3V690.1M467.00 684.8V692.3M467.50 684.6V691.0M468.00 684.2V692.0M468.50 682.9V691.1M469.00 685.3V691.6M469.50 680.3V691.0M470.00 684.8V691.4M470.50 682.6V691.4M471.00 685.0V690.5M471.50 684.7V692.9M472.00 684.7V693.0M472.50 684.7V692.7M473.00 685.5V691.7M473.50 681.8V692.9M474.00 685.6V693.5M474.50 684.2V691.4M475.00 685.0V691.9M475.50 686.0V692.7M476.00 683.8V691.2M476.50 683.0V691.5M477.00 683.2V692.0M477.50 684.0V691.7M478.00 685.1V692.5M478.50 685.1V692.8M479.00 682.7V691.1M479.50 683.7V690.5M480.00 685.4V692.8M480.50 682.9V691.3M481.00 680.3V692.7M481.50 686.2V692.4M482.00 684.5V693.0M482.50 683.7V692.0M483.00 684.8V692.4M483.50 683.5V690.4M484.00 683.5V691.4M484.50 683.2V691.6M485.00 681.2V691.3M485.50 685.6V692.5M486.00 683.7V691.2M486.50 683.3V692.7M487.00 684.3V691.2M487.50 684.5V690.8M488.00 684.2V690.1M488.50 684.7V691.1M489.00 686.1V691.5M489.50 684.5V691.6M490.00 685.7V691.0M490.50 682.8V690.4M491.00 685.1V693.1M491.50 682.4V690.3M492.00 684.0V692.4M492.50 684.4V690.7M493.00 684.7V690.4M493.50 684.8V691.0M494.00 685.9V693.4M494.50 685.5V692.1M495.00 683.9V691.6M495.50 681.9V692.4M496.00 683.8V692.9M496.50 685.2V692.6M497.00 685.1V690.9M497.50 685.2V692.5M498.00 683.0V691.3M498.50 683.0V692.3M499.00 684.5V692.9M499.50 686.1V692.8M500.00 684.6V691.4M500.50 684.7V691.5M501.00 684.2V692.0M501.50 684.8V692.2M502.00 684.5V692.1M502.50 684.9V691.8M503.00 684.8V691.4M503.50 685.9V691.8M504.00 683.5V691.4M504.50 684.8V692.2M505.00 684.7V692.4M505.50 685.4V693.1M506.00 684.2V691.2M506.50 683.8V691.2M507.00 681.2V692.3M507.50 684.8V691.1" stroke="#9a9a9a" stroke-width="0.5" fill="none" opacity="0.55"/>
<path d="M275.00 674.5V679.0M275.50 673.5V678.6M276.00 670.1V679.4M276.50 661.5V679.4M277.00 675.2V679.5M277.50 674.8V679.5M278.00 674.1V679.2M278.50 670.0V679.7M279.00 675.4V680.3M279.50 676.6V680.6M280.00 665.4V680.5M280.50 675.6V680.2M281.00 676.9V681.0M281.50 668.7V681.0M282.00 675.6V681.2M282.50 671.6V680.6M283.00 674.0V680.6M283.50 676.2V680.7M284.00 672.5V681.5M284.50 676.2V681.6M285.00 675.6V681.7M285.50 673.3V682.1M286.00 666.8V681.5M286.50 677.9V682.2M287.00 678.0V681.7M287.50 672.1V682.0M288.00 676.9V681.6M288.50 678.2V682.6M289.00 675.4V682.0M289.50 674.4V682.5M290.00 672.8V682.4M290.50 677.9V682.9M291.00 667.0V683.3M291.50 678.6V683.3M292.00 678.5V682.7M292.50 676.4V683.0M293.00 677.1V683.2M293.50 680.6V683.8M294.00 667.9V682.7M294.50 679.9V683.0M295.00 679.4V682.8M295.50 680.0V683.6M296.00 675.3V683.1M296.50 680.3V683.7M297.00 679.7V682.9M297.50 677.8V683.8M298.00 680.5V684.1M298.50 680.9V683.9M299.00 677.6V682.9M299.50 677.7V683.1M300.00 677.9V684.0M300.50 680.8V684.0M301.00 678.6V683.6M301.50 678.6V684.1M302.00 680.1V684.2M302.50 680.0V684.1M303.00 678.5V683.9M303.50 676.5V683.4M304.00 676.4V683.6M304.50 677.9V683.9M305.00 675.9V684.4M305.50 671.8V684.2M306.00 678.7V683.6M306.50 677.6V684.2M307.00 679.9V683.6M307.50 676.5V684.6M308.00 674.8V683.8M308.50 671.3V684.4M309.00 677.3V683.8M309.50 680.9V684.6M310.00 675.4V683.8M310.50 679.7V684.1M311.00 681.1V684.6M311.50 679.8V684.6M312.00 680.4V684.6M312.50 679.0V684.0M313.00 680.1V684.7M313.50 678.7V684.8M314.00 680.8V684.1M314.50 674.7V684.0M315.00 676.3V684.8M315.50 681.3V684.7M316.00 681.3V684.2M316.50 682.0V684.6M317.00 682.2V684.6M317.50 679.4V684.1M318.00 678.2V685.1M318.50 678.6V685.3M319.00 679.4V684.2M319.50 680.4V684.3M320.00 681.6V684.3M320.50 682.6V685.2M321.00 677.9V684.4M321.50 677.9V685.4M322.00 675.4V684.6M322.50 677.6V684.6M323.00 676.4V684.9M323.50 674.9V685.5M324.00 682.7V685.2M324.50 680.3V684.7M325.00 674.7V684.8M325.50 682.0V684.9M326.00 680.2V685.1M326.50 682.7V685.1M327.00 678.3V685.5M327.50 678.4V685.1M328.00 681.8V685.6M328.50 683.3V685.7M329.00 679.3V685.9M329.50 680.4V685.1M330.00 677.9V685.2M330.50 683.2V685.8M331.00 679.7V685.4M331.50 680.4V686.1M332.00 682.4V685.8M332.50 682.0V685.9M333.00 682.1V686.0M333.50 680.6V685.8M334.00 681.8V685.4M334.50 681.8V685.9M335.00 682.5V685.9M335.50 680.1V686.4M336.00 679.8V686.6M336.50 682.0V686.5M337.00 682.8V686.0M337.50 682.7V685.7M338.00 682.5V686.3M338.50 683.4V686.6M339.00 682.8V686.3M339.50 683.5V686.0M340.00 680.5V686.3M340.50 677.2V686.1M341.00 681.3V686.8M341.50 678.2V685.9M342.00 679.3V686.4M342.50 682.5V685.9M343.00 683.5V686.5M343.50 683.8V686.6M344.00 678.2V686.3M344.50 675.1V686.8M345.00 683.2V686.0M345.50 683.8V686.7M346.00 684.3V687.0M346.50 683.0V686.6M347.00 683.2V686.0M347.50 683.1V686.4M348.00 680.4V686.8M348.50 681.3V687.0M349.00 683.5V686.3M349.50 682.1V686.2M350.00 683.8V686.9M350.50 680.0V686.5M351.00 681.6V686.3M351.50 678.1V686.8M352.00 681.7V686.4M352.50 675.1V686.3M353.00 681.6V686.9M353.50 682.6V686.3M354.00 680.4V686.3M354.50 684.6V686.8M355.00 682.8V687.1M355.50 684.5V687.2M356.00 682.5V686.7M356.50 684.2V686.7M357.00 684.2V686.4M357.50 684.3V687.1M358.00 684.1V686.3M358.50 682.1V687.2M359.00 684.5V686.9M359.50 676.5V687.2M360.00 682.5V686.5M360.50 679.3V686.9M361.00 682.8V687.3M361.50 680.7V686.5M362.00 684.6V687.4M362.50 682.1V687.1M363.00 684.3V686.9M363.50 675.6V686.7M364.00 683.1V687.4M364.50 682.5V686.9M365.00 684.5V686.8M365.50 682.5V687.5M366.00 677.2V687.3M366.50 683.3V687.6M367.00 678.9V686.4M367.50 684.2V686.9M368.00 684.9V687.1M368.50 684.1V687.6M369.00 682.2V687.5M369.50 679.7V687.0M370.00 684.4V687.4M370.50 684.3V687.6M371.00 684.7V687.2M371.50 684.6V687.6M372.00 674.7V686.7M372.50 685.0V687.6M373.00 684.8V687.2M373.50 684.9V687.7M374.00 680.2V687.5M374.50 684.9V687.5M375.00 685.1V687.7M375.50 674.5V686.7M376.00 685.3V687.4M376.50 684.7V687.4M377.00 684.1V687.2M377.50 684.6V687.3M378.00 678.7V687.1M378.50 682.8V687.1M379.00 685.1V687.3M379.50 682.7V686.9M380.00 683.7V686.8M380.50 677.7V687.8M381.00 679.6V686.8M381.50 684.8V687.3M382.00 684.0V687.8M382.50 685.1V687.9M383.00 683.6V687.5M383.50 684.5V686.9M384.00 685.0V687.6M384.50 680.0V687.2M385.00 681.0V687.3M385.50 683.8V687.1M386.00 683.7V687.3M386.50 681.8V687.9M387.00 683.1V687.4M387.50 680.3V687.2M388.00 683.8V687.3M388.50 683.9V687.7M389.00 684.9V687.8M389.50 685.2V687.1M390.00 682.7V687.6M390.50 681.4V687.6M391.00 684.1V687.9M391.50 681.6V687.5M392.00 684.8V688.1M392.50 684.3V687.0M393.00 678.3V687.7M393.50 683.7V686.9M394.00 684.2V687.9M394.50 685.6V688.1M395.00 683.4V687.5M395.50 683.2V687.2M396.00 685.0V687.7M396.50 683.8V688.0M397.00 680.6V687.7M397.50 683.5V687.3M398.00 685.1V688.2M398.50 683.7V688.0M399.00 684.9V687.8M399.50 678.7V687.8M400.00 685.2V687.6M400.50 685.5V687.5M401.00 685.5V687.8M401.50 684.1V687.7M402.00 685.1V688.0M402.50 683.5V688.0M403.00 682.6V687.3M403.50 684.4V687.6M404.00 681.3V687.0M404.50 683.9V687.4M405.00 677.8V688.1M405.50 685.7V687.8M406.00 684.7V687.8M406.50 685.2V688.0M407.00 682.0V687.7M407.50 685.9V688.2M408.00 680.6V688.2M408.50 683.6V687.9M409.00 684.0V687.4M409.50 685.5V687.6M410.00 680.2V687.6M410.50 682.4V687.2M411.00 683.2V687.2M411.50 680.4V687.8M412.00 682.9V687.1M412.50 685.7V687.9M413.00 685.1V687.9M413.50 685.9V688.1M414.00 682.6V687.2M414.50 683.9V688.0M415.00 682.7V688.1M415.50 685.1V687.5M416.00 683.4V687.3M416.50 685.8V688.0M417.00 683.0V687.8M417.50 684.0V687.5M418.00 684.3V687.2M418.50 686.1V688.3M419.00 685.9V688.3M419.50 685.4V687.4M420.00 686.1V688.1M420.50 684.6V688.0M421.00 684.4V687.2M421.50 682.4V687.4M422.00 685.7V688.3M422.50 685.2V687.3M423.00 685.3V688.3M423.50 683.4V687.3M424.00 685.6V688.4M424.50 686.2V688.1M425.00 682.1V687.2M425.50 683.9V687.3M426.00 684.8V687.4M426.50 684.9V687.8M427.00 678.8V687.6M427.50 684.0V688.4M428.00 686.3V688.4M428.50 681.0V687.6M429.00 682.0V687.6M429.50 685.4V687.9M430.00 682.6V688.1M430.50 678.1V688.2M431.00 684.6V687.6M431.50 682.4V688.0M432.00 685.9V688.1M432.50 685.4V688.3M433.00 685.7V688.3M433.50 685.4V688.2M434.00 684.1V688.4M434.50 684.4V688.3M435.00 685.4V687.6M435.50 684.0V688.4M436.00 685.5V687.5M436.50 685.4V687.5M437.00 685.5V688.2M437.50 686.2V688.5M438.00 683.9V687.9M438.50 685.8V688.2M439.00 686.1V688.2M439.50 680.5V687.8M440.00 679.4V688.0M440.50 684.1V687.9M441.00 686.0V688.0M441.50 686.4V688.4M442.00 684.3V688.2M442.50 683.0V688.1M443.00 681.1V688.4M443.50 681.6V688.2M444.00 685.2V688.5M444.50 684.1V688.3M445.00 678.6V688.4M445.50 686.6V688.5M446.00 678.1V688.0M446.50 685.4V687.4M447.00 683.1V688.0M447.50 681.0V688.1M448.00 684.9V688.3M448.50 683.5V687.7M449.00 685.7V687.9M449.50 685.3V688.3M450.00 684.8V688.2M450.50 685.5V687.6M451.00 686.1V688.1M451.50 684.2V687.8M452.00 685.8V688.1M452.50 684.0V688.1M453.00 676.5V688.0M453.50 684.2V688.2M454.00 685.3V688.2M454.50 684.6V687.5M455.00 676.7V688.3M455.50 683.2V688.3M456.00 680.8V688.7M456.50 685.4V687.5M457.00 685.1V688.6M457.50 685.4V688.5M458.00 678.0V688.3M458.50 684.4V688.5M459.00 686.6V688.6M459.50 686.3V688.4M460.00 683.2V688.4M460.50 684.4V688.1M461.00 685.4V688.5M461.50 681.8V687.6M462.00 685.2V688.6M462.50 686.0V688.4M463.00 685.0V688.3M463.50 685.9V688.2M464.00 683.6V688.7M464.50 685.1V688.6M465.00 686.3V688.5M465.50 684.7V687.8M466.00 686.4V688.3M466.50 683.9V687.6M467.00 684.7V687.8M467.50 685.7V687.7M468.00 684.4V687.5M468.50 680.7V688.5M469.00 685.4V688.1M469.50 674.6V688.5M470.00 686.2V688.7M470.50 681.3V688.1M471.00 685.2V687.8M471.50 686.1V688.3M472.00 686.4V688.3M472.50 684.6V688.3M473.00 686.5V688.4M473.50 677.7V688.7M474.00 686.1V688.6M474.50 686.1V688.0M475.00 685.5V688.4M475.50 686.0V688.2M476.00 682.9V687.9M476.50 683.2V688.2M477.00 682.4V688.0M477.50 682.8V688.1M478.00 685.6V688.1M478.50 686.0V688.2M479.00 682.3V688.6M479.50 685.3V687.8M480.00 685.7V688.6M480.50 682.5V687.9M481.00 676.9V688.1M481.50 686.3V688.4M482.00 686.4V688.4M482.50 682.4V688.6M483.00 683.6V688.7M483.50 685.0V687.6M484.00 683.2V688.5M484.50 680.8V688.8M485.00 679.4V687.8M485.50 685.8V688.3M486.00 683.5V687.6M486.50 683.2V688.7M487.00 684.4V688.6M487.50 685.0V687.9M488.00 683.9V687.6M488.50 683.0V688.3M489.00 686.6V688.4M489.50 685.8V687.7M490.00 685.6V688.1M490.50 681.4V687.7M491.00 685.5V688.4M491.50 681.5V687.7M492.00 685.0V688.1M492.50 684.5V688.3M493.00 684.9V687.8M493.50 685.0V688.1M494.00 686.8V688.8M494.50 685.8V687.7M495.00 683.2V687.8M495.50 680.8V688.0M496.00 683.8V688.8M496.50 686.6V688.6M497.00 684.5V687.7M497.50 686.2V688.6M498.00 681.4V688.8M498.50 683.4V688.1M499.00 684.2V688.5M499.50 685.9V688.1M500.00 685.9V687.7M500.50 684.6V688.2M501.00 684.6V688.1M501.50 683.6V687.9M502.00 683.8V688.6M502.50 685.8V688.5M503.00 685.3V688.8M503.50 685.8V688.7M504.00 681.8V688.4M504.50 686.2V688.3M505.00 685.3V688.1M505.50 685.0V688.4M506.00 685.3V688.1M506.50 681.3V688.8M507.00 678.6V687.8M507.50 685.7V688.8" stroke="#303030" stroke-width="0.5" fill="none" opacity="0.85"/>
<path d="M275.00 674.3V683.6M275.50 675.7V682.1M276.00 676.0V683.0M276.50 675.5V683.2M277.00 675.7V682.6M277.50 675.7V682.3M278.00 676.7V681.7M278.50 676.7V682.7M279.00 676.5V684.4M279.50 678.0V685.0M280.00 676.2V684.4M280.50 675.9V683.2M281.00 676.9V683.7M281.50 678.3V684.1M282.00 677.2V684.7M282.50 677.9V683.6M283.00 677.2V683.4M283.50 677.5V683.8M284.00 679.4V684.3M284.50 679.2V684.5M285.00 678.7V684.8M285.50 678.5V685.0M286.00 678.9V684.0M286.50 679.4V685.2M287.00 678.2V684.5M287.50 678.6V684.4M288.00 678.3V684.0M288.50 680.0V685.6M289.00 678.5V685.4M289.50 679.5V685.2M290.00 680.4V684.4M290.50 680.2V686.1M291.00 681.0V686.6M291.50 680.1V685.1M292.00 680.3V684.6M292.50 680.8V685.3M293.00 679.9V685.9M293.50 680.9V686.2M294.00 680.9V685.1M294.50 681.0V685.7M295.00 681.0V685.3M295.50 680.9V686.2M296.00 680.6V685.7M296.50 681.1V686.9M297.00 679.8V686.2M297.50 681.0V687.0M298.00 681.3V687.1M298.50 681.9V685.9M299.00 680.0V685.8M299.50 680.2V685.4M300.00 682.2V686.2M300.50 681.1V685.9M301.00 681.1V686.5M301.50 681.1V686.1M302.00 682.4V686.7M302.50 682.3V686.1M303.00 681.8V685.6M303.50 680.9V686.0M304.00 680.8V685.9M304.50 681.1V686.1M305.00 681.4V686.0M305.50 681.5V686.8M306.00 681.5V685.9M306.50 681.2V686.4M307.00 682.0V685.7M307.50 681.9V687.2M308.00 680.8V686.0M308.50 682.4V687.3M309.00 681.1V686.4M309.50 683.0V686.7M310.00 682.1V686.0M310.50 681.7V686.7M311.00 681.8V687.2M311.50 681.9V687.3M312.00 681.8V687.4M312.50 682.5V686.8M313.00 682.1V686.6M313.50 683.1V686.6M314.00 681.4V685.9M314.50 682.3V685.8M315.00 683.3V686.8M315.50 683.1V687.4M316.00 682.6V686.0M316.50 682.4V687.2M317.00 682.3V687.3M317.50 681.6V686.9M318.00 683.0V686.7M318.50 683.0V687.2M319.00 681.6V686.2M319.50 682.2V686.0M320.00 682.5V686.2M320.50 683.5V687.6M321.00 682.6V687.0M321.50 682.7V687.1M322.00 682.7V686.6M322.50 682.1V687.0M323.00 682.6V687.6M323.50 683.2V687.4M324.00 683.5V686.8M324.50 682.6V686.4M325.00 682.9V686.9M325.50 682.8V687.3M326.00 682.9V686.8M326.50 682.4V686.7M327.00 684.0V687.3M327.50 682.5V687.3M328.00 683.3V687.2M328.50 684.1V687.5M329.00 683.3V688.3M329.50 683.7V687.4M330.00 683.7V686.9M330.50 683.9V688.4M331.00 683.0V687.8M331.50 684.0V688.6M332.00 684.0V688.5M332.50 684.2V687.7M333.00 683.9V688.0M333.50 683.9V687.8M334.00 683.9V687.2M334.50 684.1V687.6M335.00 683.4V688.1M335.50 685.0V688.1M336.00 684.4V688.5M336.50 684.9V688.2M337.00 684.6V688.0M337.50 683.1V688.3M338.00 684.6V688.0M338.50 684.9V689.3M339.00 683.9V687.9M339.50 684.1V687.6M340.00 683.8V688.5M340.50 684.7V687.8M341.00 685.3V688.7M341.50 683.4V688.2M342.00 684.3V688.3M342.50 683.5V687.7M343.00 684.6V688.6M343.50 684.3V688.8M344.00 683.7V688.7M344.50 684.8V688.6M345.00 684.3V687.9M345.50 684.5V688.1M346.00 685.6V689.3M346.50 685.2V688.3M347.00 684.5V688.2M347.50 683.9V688.1M348.00 685.4V688.4M348.50 684.8V689.1M349.00 684.3V688.3M349.50 684.1V688.5M350.00 684.7V688.4M350.50 684.7V688.5M351.00 684.7V688.5M351.50 685.2V688.7M352.00 684.3V688.6M352.50 684.4V688.2M353.00 685.3V688.5M353.50 684.6V688.2M354.00 684.9V688.5M354.50 685.5V689.3M355.00 685.6V689.4M355.50 685.6V688.5M356.00 685.4V689.1M356.50 684.8V689.0M357.00 684.4V688.0M357.50 685.3V689.5M358.00 685.0V688.7M358.50 685.4V689.2M359.00 684.6V688.8M359.50 685.6V689.0M360.00 684.5V687.8M360.50 685.4V688.6M361.00 685.3V689.2M361.50 684.7V688.8M362.00 686.0V688.9M362.50 685.3V689.1M363.00 685.6V688.5M363.50 685.0V688.7M364.00 685.6V689.6M364.50 684.9V689.0M365.00 685.2V688.2M365.50 685.8V689.9M366.00 686.0V688.6M366.50 685.7V689.2M367.00 684.7V688.6M367.50 685.1V688.8M368.00 685.8V689.0M368.50 685.5V689.8M369.00 686.2V689.5M369.50 685.4V688.4M370.00 686.1V689.2M370.50 685.6V690.0M371.00 685.7V689.2M371.50 686.1V689.9M372.00 685.2V688.3M372.50 686.2V689.6M373.00 685.7V688.9M373.50 686.3V689.0M374.00 685.5V689.0M374.50 685.6V689.3M375.00 686.0V689.0M375.50 684.9V688.3M376.00 685.7V689.5M376.50 685.5V689.6M377.00 685.1V689.3M377.50 685.5V689.0M378.00 685.5V688.7M378.50 685.4V688.4M379.00 685.6V689.2M379.50 684.7V688.1M380.00 685.4V688.1M380.50 686.4V689.7M381.00 684.9V688.9M381.50 685.8V689.1M382.00 686.2V689.4M382.50 686.4V689.4M383.00 686.0V689.3M383.50 685.2V688.8M384.00 686.1V689.3M384.50 685.6V688.6M385.00 685.8V689.2M385.50 685.1V688.4M386.00 685.1V688.7M386.50 685.8V689.7M387.00 685.5V689.3M387.50 685.8V688.7M388.00 685.5V688.5M388.50 685.8V688.8M389.00 686.5V689.3M389.50 685.6V689.2M390.00 685.5V689.3M390.50 685.7V689.5M391.00 685.9V689.5M391.50 686.2V689.0M392.00 686.4V689.3M392.50 685.4V688.9M393.00 686.4V689.5M393.50 685.2V688.2M394.00 686.2V689.2M394.50 686.6V689.5M395.00 685.4V689.2M395.50 685.1V689.3M396.00 685.7V689.8M396.50 685.8V689.9M397.00 685.9V688.9M397.50 685.6V688.8M398.00 686.7V689.9M398.50 686.5V689.3M399.00 685.9V689.8M399.50 686.5V690.0M400.00 685.8V688.7M400.50 685.6V689.0M401.00 686.1V689.2M401.50 685.6V689.0M402.00 686.4V689.3M402.50 686.2V689.9M403.00 686.0V689.4M403.50 686.5V689.5M404.00 685.6V688.5M404.50 685.5V688.7M405.00 686.2V690.1M405.50 686.2V689.7M406.00 685.7V689.6M406.50 686.7V689.4M407.00 686.3V689.1M407.50 686.9V689.9M408.00 687.0V690.3M408.50 686.4V689.6M409.00 685.5V688.9M409.50 685.9V689.6M410.00 686.0V689.7M410.50 685.7V688.7M411.00 685.9V688.7M411.50 685.8V689.9M412.00 685.6V688.7M412.50 686.7V689.8M413.00 686.3V689.7M413.50 686.5V689.9M414.00 686.1V689.3M414.50 686.8V689.9M415.00 686.4V690.1M415.50 685.7V689.5M416.00 685.9V689.1M416.50 686.5V689.5M417.00 686.5V689.1M417.50 686.2V689.2M418.00 685.5V688.4M418.50 687.2V690.1M419.00 686.4V689.5M419.50 685.3V689.1M420.00 686.8V689.3M420.50 686.0V689.7M421.00 685.4V689.3M421.50 685.4V688.8M422.00 686.8V689.6M422.50 685.5V688.7M423.00 687.2V690.0M423.50 685.8V689.0M424.00 687.1V690.0M424.50 686.0V690.0M425.00 685.1V688.8M425.50 685.3V688.5M426.00 685.3V688.7M426.50 685.7V689.8M427.00 685.9V689.0M427.50 686.8V690.0M428.00 686.6V690.2M428.50 686.4V689.5M429.00 686.4V688.8M429.50 685.9V689.1M430.00 686.7V690.0M430.50 686.7V690.3M431.00 686.4V689.1M431.50 686.4V689.7M432.00 686.4V689.6M432.50 686.6V689.4M433.00 686.3V690.2M433.50 687.1V690.0M434.00 686.8V689.8M434.50 686.2V689.9M435.00 685.9V688.9M435.50 687.0V690.5M436.00 686.3V688.7M436.50 686.0V689.4M437.00 686.6V690.0M437.50 686.6V690.5M438.00 686.2V689.3M438.50 686.8V689.6M439.00 686.8V689.9M439.50 686.1V689.9M440.00 686.1V689.4M440.50 686.3V689.3M441.00 686.4V689.3M441.50 687.2V689.6M442.00 686.8V689.7M442.50 686.3V689.8M443.00 686.7V690.0M443.50 686.6V689.5M444.00 687.1V690.3M444.50 687.0V690.2M445.00 686.5V690.4M445.50 686.9V690.2M446.00 686.8V689.2M446.50 685.4V689.0M447.00 686.6V689.2M447.50 686.0V690.0M448.00 686.8V690.4M448.50 686.3V689.3M449.00 686.7V689.4M449.50 686.7V690.3M450.00 687.1V689.6M450.50 685.9V689.0M451.00 686.7V689.6M451.50 685.7V689.1M452.00 686.6V689.3M452.50 686.8V690.0M453.00 686.5V689.4M453.50 687.0V689.8M454.00 686.2V689.5M454.50 686.1V688.8M455.00 686.9V689.6M455.50 686.8V690.4M456.00 686.7V690.4M456.50 686.3V689.0M457.00 687.3V690.3M457.50 687.3V689.9M458.00 686.2V689.5M458.50 687.1V690.5M459.00 686.6V690.3M459.50 687.1V689.9M460.00 686.6V690.0M460.50 686.2V689.5M461.00 686.4V690.6M461.50 685.8V689.1M462.00 687.5V689.8M462.50 686.8V689.7M463.00 686.6V690.1M463.50 686.4V689.3M464.00 686.9V690.2M464.50 687.1V690.5M465.00 687.1V690.5M465.50 686.0V689.0M466.00 686.7V690.0M466.50 685.5V688.7M467.00 685.9V689.1M467.50 686.2V689.2M468.00 686.2V688.9M468.50 686.7V690.1M469.00 685.9V690.1M469.50 687.1V690.6M470.00 686.6V690.4M470.50 686.9V689.4M471.00 686.6V689.0M471.50 686.5V690.4M472.00 686.4V690.3M472.50 686.8V689.8M473.00 686.9V690.2M473.50 687.4V690.1M474.00 686.9V690.0M474.50 686.2V689.4M475.00 686.9V689.7M475.50 686.6V690.1M476.00 686.1V689.1M476.50 686.3V690.2M477.00 686.8V689.6M477.50 686.8V690.1M478.00 686.3V689.5M478.50 686.9V689.8M479.00 686.5V690.6M479.50 686.5V689.7M480.00 686.5V690.1M480.50 686.7V689.7M481.00 686.6V689.4M481.50 687.2V689.7M482.00 686.9V690.4M482.50 686.8V690.4M483.00 686.6V690.7M483.50 686.5V689.7M484.00 686.8V690.3M484.50 687.5V690.3M485.00 685.8V689.8M485.50 687.0V690.0M486.00 685.8V689.6M486.50 687.5V689.9M487.00 686.8V690.3M487.50 686.4V689.7M488.00 686.5V689.0M488.50 686.5V690.0M489.00 686.8V690.1M489.50 685.7V689.7M490.00 686.9V690.0M490.50 686.1V688.9M491.00 686.3V690.1M491.50 685.7V689.1M492.00 686.6V689.6M492.50 686.5V689.8M493.00 686.6V689.7M493.50 686.3V690.1M494.00 687.5V690.7M494.50 686.6V689.4M495.00 686.0V689.5M495.50 686.0V689.2M496.00 687.7V690.0M496.50 686.5V689.7M497.00 685.8V689.5M497.50 687.1V690.6M498.00 686.8V690.1M498.50 686.1V689.9M499.00 687.0V689.9M499.50 686.5V690.2M500.00 685.8V688.9M500.50 687.0V689.4M501.00 686.8V689.8M501.50 686.7V689.5M502.00 686.9V689.9M502.50 686.8V689.7M503.00 686.8V690.0M503.50 687.4V690.7M504.00 686.9V690.1M504.50 687.0V690.2M505.00 686.4V690.2M505.50 686.5V690.4M506.00 687.0V689.6M506.50 687.2V690.3M507.00 686.5V689.8M507.50 686.7V690.0" stroke="#151515" stroke-width="0.6" fill="none"/>
<rect x="307.0" y="541.0" width="7.6" height="1.6" fill="#8e8e8e" opacity="0.85"/>
<rect x="310.7" y="585.7" width="7.2" height="1.6" fill="#8e8e8e" opacity="0.85"/>
<rect x="305.5" y="625.8" width="7.6" height="1.6" fill="#8e8e8e" opacity="0.85"/>
<rect x="278.5" y="628.3" width="6.5" height="1.6" fill="#8e8e8e" opacity="0.85"/>
<rect x="282.0" y="640.8" width="7.0" height="1.6" fill="#8e8e8e" opacity="0.85"/>
<rect x="309.0" y="647.5" width="6.7" height="1.6" fill="#8e8e8e" opacity="0.85"/>
<rect x="312.1" y="654.0" width="7.7" height="1.6" fill="#8e8e8e" opacity="0.85"/>
<rect x="319.1" y="669.5" width="7.8" height="1.6" fill="#8e8e8e" opacity="0.85"/>
<rect x="282.8" y="671.2" width="6.7" height="1.6" fill="#8e8e8e" opacity="0.85"/>
<rect x="327.9" y="682.0" width="7.4" height="1.6" fill="#8e8e8e" opacity="0.85"/>
<text transform="translate(57.47 556.59) scale(1.052 1)" font-size="11.34" font-weight="bold" fill="#111" stroke="#111" stroke-width="0.3">R572+H</text>
<text transform="translate(58.57 636.79) scale(1.092 1)" font-size="10.85" font-weight="bold" fill="#111" stroke="#111" stroke-width="0.3">R572+Na</text>
<text transform="translate(308.37 554.29) scale(1.041 1)" font-size="11.41" font-weight="bold" fill="#111" stroke="#111" stroke-width="0.3">I540+Na</text>
<text transform="translate(262.47 621.89) scale(1.056 1)" font-size="11.27" font-weight="bold" fill="#111" stroke="#111" stroke-width="0.3">I540+H</text>
<text transform="translate(98.42 758.66) scale(1.038 1)" font-size="13.51" font-weight="bold" fill="#111" stroke="#111" stroke-width="0.3">fraction no.38</text>
<text transform="translate(348.22 758.77) scale(1.087 1)" font-size="12.97" font-weight="bold" fill="#111" stroke="#111" stroke-width="0.3">fraction no.42</text>
<rect x="5.6" y="632" width="1.4" height="16" fill="#a0a0a0"/>
<rect x="262.9" y="633" width="1.4" height="15" fill="#a0a0a0"/>
<rect x="129.9" y="745.2" width="13.2" height="1.6" fill="#9a9a9a" opacity="0.85"/>
<rect x="384.4" y="743.8" width="7.7" height="1.6" fill="#9a9a9a" opacity="0.85"/>
<rect x="255.5" y="542.2" width="4.0" height="1.6" fill="#666" opacity="0.85"/>
<rect x="267.8" y="542.2" width="4.0" height="1.6" fill="#666" opacity="0.85"/>
<rect x="510.0" y="541.0" width="5.0" height="1.6" fill="#8a8a8a" opacity="0.85"/>
<rect x="511.0" y="738.0" width="3.0" height="1.6" fill="#8a8a8a" opacity="0.85"/>
</svg>
</body></html>
